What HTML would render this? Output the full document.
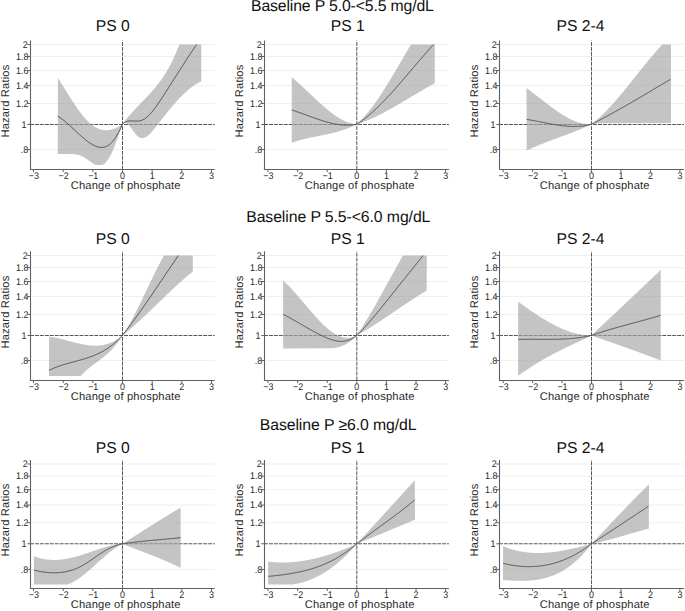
<!DOCTYPE html>
<html><head><meta charset="utf-8"><style>
html,body{margin:0;padding:0;background:#fff;width:685px;height:611px;overflow:hidden}
svg{display:block}
text{font-family:"Liberation Sans",sans-serif;fill:#222;text-rendering:geometricPrecision}
.tk{font-size:9.7px;fill:#2a2a2a}
.at{font-size:11.2px;fill:#2a2a2a}
.pt{font-size:15.7px;fill:#111}
.rt{font-size:15.8px;fill:#111}
</style></head><body>
<svg width="685" height="611" viewBox="0 0 685 611" shape-rendering="geometricPrecision">
<line x1="32.0" y1="149.50" x2="214.7" y2="149.50" stroke="#ebf1f1" stroke-width="1"/>
<line x1="32.0" y1="103.50" x2="214.7" y2="103.50" stroke="#ebf1f1" stroke-width="1"/>
<line x1="32.0" y1="85.50" x2="214.7" y2="85.50" stroke="#ebf1f1" stroke-width="1"/>
<line x1="32.0" y1="70.50" x2="214.7" y2="70.50" stroke="#ebf1f1" stroke-width="1"/>
<line x1="32.0" y1="56.50" x2="214.7" y2="56.50" stroke="#ebf1f1" stroke-width="1"/>
<line x1="32.0" y1="44.50" x2="214.7" y2="44.50" stroke="#ebf1f1" stroke-width="1"/>
<line x1="30.0" y1="124.50" x2="214.7" y2="124.50" stroke="#585858" stroke-width="1" stroke-dasharray="3.95 1"/>
<line x1="122.50" y1="40.6" x2="122.50" y2="169.5" stroke="#585858" stroke-width="1" stroke-dasharray="3.95 1" stroke-dashoffset="3.55"/>
<path d="M57.90,77.90 L58.40,78.69 L58.90,79.48 L59.40,80.28 L59.90,81.07 L60.40,81.88 L60.90,82.68 L61.40,83.48 L61.90,84.29 L62.40,85.09 L62.90,85.90 L63.40,86.71 L63.90,87.52 L64.40,88.33 L64.90,89.13 L65.40,89.94 L65.90,90.75 L66.40,91.55 L66.90,92.36 L67.40,93.16 L67.90,93.96 L68.40,94.76 L68.90,95.56 L69.40,96.35 L69.90,97.14 L70.40,97.93 L70.90,98.71 L71.40,99.49 L71.90,100.27 L72.40,101.04 L72.90,101.81 L73.40,102.57 L73.90,103.33 L74.40,104.08 L74.90,104.82 L75.40,105.56 L75.90,106.30 L76.40,107.03 L76.90,107.75 L77.40,108.46 L77.90,109.16 L78.40,109.86 L78.90,110.55 L79.40,111.24 L79.90,111.91 L80.40,112.58 L80.90,113.23 L81.40,113.88 L81.90,114.52 L82.40,115.14 L82.90,115.76 L83.40,116.37 L83.90,116.97 L84.40,117.55 L84.90,118.13 L85.40,118.69 L85.90,119.24 L86.40,119.78 L86.90,120.31 L87.40,120.82 L87.90,121.32 L88.40,121.81 L88.90,122.29 L89.40,122.75 L89.90,123.20 L90.40,123.63 L90.90,124.05 L91.40,124.46 L91.90,124.85 L92.40,125.22 L92.90,125.58 L93.40,125.93 L93.90,126.26 L94.40,126.58 L94.90,126.89 L95.40,127.18 L95.90,127.46 L96.40,127.72 L96.90,127.97 L97.40,128.20 L97.90,128.43 L98.40,128.63 L98.90,128.83 L99.40,129.01 L99.90,129.18 L100.40,129.33 L100.90,129.48 L101.40,129.61 L101.90,129.72 L102.40,129.82 L102.90,129.91 L103.40,129.99 L103.90,130.06 L104.40,130.11 L104.90,130.15 L105.40,130.18 L105.90,130.19 L106.40,130.20 L106.90,130.19 L107.40,130.17 L107.90,130.13 L108.40,130.09 L108.90,130.03 L109.40,129.96 L109.90,129.88 L110.40,129.79 L110.90,129.68 L111.40,129.57 L111.90,129.44 L112.40,129.30 L112.90,129.16 L113.40,128.99 L113.90,128.82 L114.40,128.64 L114.90,128.45 L115.40,128.24 L115.90,128.03 L116.40,127.80 L116.90,127.57 L117.40,127.32 L117.90,127.06 L118.40,126.80 L118.90,126.52 L119.40,126.23 L119.90,125.93 L120.40,125.63 L120.90,125.31 L121.40,124.98 L121.90,124.64 L122.40,124.30 L122.90,123.62 L123.40,122.95 L123.90,122.29 L124.40,121.63 L124.90,120.99 L125.40,120.35 L125.90,119.72 L126.40,119.09 L126.90,118.48 L127.40,117.87 L127.90,117.26 L128.40,116.67 L128.90,116.08 L129.40,115.49 L129.90,114.91 L130.40,114.34 L130.90,113.77 L131.40,113.21 L131.90,112.65 L132.40,112.09 L132.90,111.54 L133.40,111.00 L133.90,110.45 L134.40,109.91 L134.90,109.38 L135.40,108.85 L135.90,108.32 L136.40,107.79 L136.90,107.26 L137.40,106.74 L137.90,106.22 L138.40,105.70 L138.90,105.18 L139.40,104.66 L139.90,104.15 L140.40,103.63 L140.90,103.12 L141.40,102.60 L141.90,102.09 L142.40,101.57 L142.90,101.06 L143.40,100.54 L143.90,100.02 L144.40,99.51 L144.90,98.99 L145.40,98.46 L145.90,97.94 L146.40,97.42 L146.90,96.89 L147.40,96.36 L147.90,95.82 L148.40,95.29 L148.90,94.75 L149.40,94.20 L149.90,93.66 L150.40,93.11 L150.90,92.55 L151.40,91.99 L151.90,91.43 L152.40,90.86 L152.90,90.28 L153.40,89.70 L153.90,89.12 L154.40,88.52 L154.90,87.93 L155.40,87.32 L155.90,86.71 L156.40,86.09 L156.90,85.47 L157.40,84.84 L157.90,84.20 L158.40,83.55 L158.90,82.89 L159.40,82.23 L159.90,81.55 L160.40,80.87 L160.90,80.18 L161.40,79.47 L161.90,78.76 L162.40,78.03 L162.90,77.29 L163.40,76.55 L163.90,75.79 L164.40,75.01 L164.90,74.23 L165.40,73.43 L165.90,72.62 L166.40,71.79 L166.90,70.95 L167.40,70.09 L167.90,69.23 L168.40,68.34 L168.90,67.44 L169.40,66.52 L169.90,65.59 L170.40,64.64 L170.90,63.68 L171.40,62.69 L171.90,61.69 L172.40,60.67 L172.90,59.63 L173.40,58.58 L173.90,57.50 L174.40,56.41 L174.90,55.29 L175.40,54.15 L175.90,53.00 L176.40,51.82 L176.90,50.62 L177.40,49.40 L177.90,48.16 L178.40,46.90 L178.90,45.61 L179.40,44.46 L201.30,44.46 L201.30,81.20 L200.90,81.39 L200.40,81.63 L199.90,81.89 L199.40,82.15 L198.90,82.41 L198.40,82.69 L197.90,82.98 L197.40,83.27 L196.90,83.57 L196.40,83.88 L195.90,84.19 L195.40,84.51 L194.90,84.85 L194.40,85.18 L193.90,85.53 L193.40,85.88 L192.90,86.24 L192.40,86.61 L191.90,86.98 L191.40,87.36 L190.90,87.75 L190.40,88.15 L189.90,88.55 L189.40,88.95 L188.90,89.37 L188.40,89.79 L187.90,90.22 L187.40,90.65 L186.90,91.09 L186.40,91.54 L185.90,91.99 L185.40,92.44 L184.90,92.91 L184.40,93.38 L183.90,93.85 L183.40,94.33 L182.90,94.82 L182.40,95.31 L181.90,95.81 L181.40,96.31 L180.90,96.81 L180.40,97.33 L179.90,97.84 L179.40,98.37 L178.90,98.89 L178.40,99.42 L177.90,99.96 L177.40,100.50 L176.90,101.05 L176.40,101.59 L175.90,102.15 L175.40,102.71 L174.90,103.27 L174.40,103.84 L173.90,104.41 L173.40,104.98 L172.90,105.56 L172.40,106.14 L171.90,106.73 L171.40,107.31 L170.90,107.91 L170.40,108.50 L169.90,109.10 L169.40,109.70 L168.90,110.31 L168.40,110.92 L167.90,111.53 L167.40,112.14 L166.90,112.76 L166.40,113.38 L165.90,114.00 L165.40,114.63 L164.90,115.26 L164.40,115.89 L163.90,116.52 L163.40,117.15 L162.90,117.79 L162.40,118.43 L161.90,119.07 L161.40,119.71 L160.90,120.36 L160.40,121.00 L159.90,121.65 L159.40,122.30 L158.90,122.95 L158.40,123.60 L157.90,124.25 L157.40,124.91 L156.90,125.56 L156.40,126.22 L155.90,126.87 L155.40,127.51 L154.90,128.15 L154.40,128.78 L153.90,129.41 L153.40,130.02 L152.90,130.62 L152.40,131.21 L151.90,131.79 L151.40,132.34 L150.90,132.89 L150.40,133.41 L149.90,133.92 L149.40,134.40 L148.90,134.86 L148.40,135.30 L147.90,135.71 L147.40,136.09 L146.90,136.45 L146.40,136.77 L145.90,137.07 L145.40,137.33 L144.90,137.56 L144.40,137.75 L143.90,137.91 L143.40,138.03 L142.90,138.11 L142.40,138.15 L141.90,138.14 L141.40,138.09 L140.90,138.00 L140.40,137.86 L139.90,137.68 L139.40,137.44 L138.90,137.15 L138.40,136.82 L137.90,136.42 L137.40,135.98 L136.90,135.49 L136.40,134.95 L135.90,134.38 L135.40,133.78 L134.90,133.15 L134.40,132.50 L133.90,131.83 L133.40,131.15 L132.90,130.46 L132.40,129.77 L131.90,129.09 L131.40,128.41 L130.90,127.75 L130.40,127.10 L129.90,126.48 L129.40,125.89 L128.90,125.34 L128.40,124.84 L127.90,124.38 L127.40,123.98 L126.90,123.64 L126.40,123.37 L125.90,123.17 L125.40,123.06 L124.90,123.03 L124.40,123.09 L123.90,123.26 L123.40,123.52 L122.90,123.90 L122.40,124.50 L122.25,124.90 L121.75,126.25 L121.25,127.63 L120.75,129.03 L120.25,130.44 L119.75,131.87 L119.25,133.30 L118.75,134.73 L118.25,136.16 L117.75,137.59 L117.25,139.01 L116.75,140.42 L116.25,141.81 L115.75,143.18 L115.25,144.53 L114.75,145.85 L114.25,147.13 L113.75,148.39 L113.25,149.60 L112.75,150.76 L112.25,151.89 L111.75,152.96 L111.25,153.99 L110.75,154.97 L110.25,155.91 L109.75,156.81 L109.25,157.66 L108.75,158.46 L108.25,159.22 L107.75,159.94 L107.25,160.62 L106.75,161.25 L106.25,161.84 L105.75,162.38 L105.25,162.89 L104.75,163.35 L104.25,163.77 L103.75,164.15 L103.25,164.49 L102.75,164.78 L102.25,164.93 L101.75,164.93 L101.25,164.93 L100.75,164.93 L100.25,164.93 L99.75,164.93 L99.25,164.93 L98.75,164.93 L98.25,164.93 L97.75,164.93 L97.25,164.93 L96.75,164.93 L96.25,164.93 L95.75,164.93 L95.25,164.76 L94.75,164.52 L94.25,164.25 L93.75,163.97 L93.25,163.67 L92.75,163.35 L92.25,163.03 L91.75,162.69 L91.25,162.34 L90.75,161.98 L90.25,161.61 L89.75,161.24 L89.25,160.87 L88.75,160.50 L88.25,160.13 L87.75,159.76 L87.25,159.40 L86.75,159.04 L86.25,158.69 L85.75,158.35 L85.25,158.02 L84.75,157.70 L84.25,157.40 L83.75,157.12 L83.25,156.85 L82.75,156.59 L82.25,156.35 L81.75,156.13 L81.25,155.92 L80.75,155.72 L80.25,155.53 L79.75,155.36 L79.25,155.20 L78.75,155.05 L78.25,154.91 L77.75,154.78 L77.25,154.67 L76.75,154.56 L76.25,154.46 L75.75,154.38 L75.25,154.30 L74.75,154.23 L74.25,154.16 L73.75,154.11 L73.25,154.06 L72.75,154.02 L72.25,153.99 L71.75,153.96 L71.25,153.93 L70.75,153.92 L70.25,153.90 L69.75,153.89 L69.25,153.89 L68.75,153.89 L68.25,153.89 L67.75,153.89 L67.25,153.90 L66.75,153.91 L66.25,153.92 L65.75,153.93 L65.25,153.94 L64.75,153.95 L64.25,153.96 L63.75,153.97 L63.25,153.98 L62.75,153.99 L62.25,154.00 L61.75,154.00 L61.25,154.00 L60.75,154.00 L60.25,153.99 L59.75,153.98 L59.25,153.97 L58.75,153.95 L58.25,153.93 L57.75,153.90 Z" fill="#a4a4a4" fill-opacity="0.65"/>
<path d="M57.60,116.10 L58.10,116.41 L58.60,116.72 L59.10,117.04 L59.60,117.38 L60.10,117.72 L60.60,118.06 L61.10,118.42 L61.60,118.79 L62.10,119.16 L62.60,119.54 L63.10,119.92 L63.60,120.32 L64.10,120.71 L64.60,121.12 L65.10,121.53 L65.60,121.95 L66.10,122.37 L66.60,122.79 L67.10,123.22 L67.60,123.66 L68.10,124.10 L68.60,124.54 L69.10,124.99 L69.60,125.44 L70.10,125.89 L70.60,126.34 L71.10,126.80 L71.60,127.26 L72.10,127.72 L72.60,128.18 L73.10,128.65 L73.60,129.11 L74.10,129.58 L74.60,130.04 L75.10,130.51 L75.60,130.97 L76.10,131.44 L76.60,131.90 L77.10,132.37 L77.60,132.83 L78.10,133.29 L78.60,133.75 L79.10,134.21 L79.60,134.66 L80.10,135.11 L80.60,135.56 L81.10,136.00 L81.60,136.45 L82.10,136.88 L82.60,137.32 L83.10,137.75 L83.60,138.17 L84.10,138.59 L84.60,139.00 L85.10,139.41 L85.60,139.81 L86.10,140.21 L86.60,140.60 L87.10,140.99 L87.60,141.36 L88.10,141.73 L88.60,142.09 L89.10,142.45 L89.60,142.79 L90.10,143.13 L90.60,143.46 L91.10,143.78 L91.60,144.09 L92.10,144.39 L92.60,144.68 L93.10,144.96 L93.60,145.22 L94.10,145.48 L94.60,145.72 L95.10,145.95 L95.60,146.16 L96.10,146.36 L96.60,146.55 L97.10,146.72 L97.60,146.87 L98.10,147.01 L98.60,147.13 L99.10,147.23 L99.60,147.31 L100.10,147.38 L100.60,147.42 L101.10,147.45 L101.60,147.46 L102.10,147.44 L102.60,147.40 L103.10,147.34 L103.60,147.26 L104.10,147.15 L104.60,147.03 L105.10,146.87 L105.60,146.69 L106.10,146.49 L106.60,146.26 L107.10,146.00 L107.60,145.72 L108.10,145.41 L108.60,145.08 L109.10,144.71 L109.60,144.32 L110.10,143.90 L110.60,143.46 L111.10,142.98 L111.60,142.48 L112.10,141.95 L112.60,141.39 L113.10,140.80 L113.60,140.18 L114.10,139.54 L114.60,138.86 L115.10,138.15 L115.60,137.42 L116.10,136.65 L116.60,135.85 L117.10,135.02 L117.60,134.16 L118.10,133.27 L118.60,132.35 L119.10,131.40 L119.60,130.41 L120.10,129.40 L120.60,128.35 L121.10,127.26 L121.60,126.15 L122.10,125.00 L122.40,124.30 L122.90,123.79 L123.40,123.34 L123.90,122.93 L124.40,122.57 L124.90,122.25 L125.40,121.98 L125.90,121.74 L126.40,121.54 L126.90,121.37 L127.40,121.23 L127.90,121.12 L128.40,121.03 L128.90,120.97 L129.40,120.93 L129.90,120.91 L130.40,120.90 L130.90,120.90 L131.40,120.91 L131.90,120.93 L132.40,120.96 L132.90,120.98 L133.40,121.01 L133.90,121.04 L134.40,121.07 L134.90,121.09 L135.40,121.11 L135.90,121.12 L136.40,121.12 L136.90,121.12 L137.40,121.10 L137.90,121.07 L138.40,121.03 L138.90,120.98 L139.40,120.90 L139.90,120.81 L140.40,120.70 L140.90,120.57 L141.40,120.41 L141.90,120.23 L142.40,120.03 L142.90,119.80 L143.40,119.54 L143.90,119.26 L144.40,118.96 L144.90,118.64 L145.40,118.29 L145.90,117.92 L146.40,117.53 L146.90,117.12 L147.40,116.68 L147.90,116.23 L148.40,115.76 L148.90,115.27 L149.40,114.77 L149.90,114.24 L150.40,113.70 L150.90,113.15 L151.40,112.57 L151.90,111.99 L152.40,111.38 L152.90,110.77 L153.40,110.14 L153.90,109.50 L154.40,108.85 L154.90,108.18 L155.40,107.51 L155.90,106.82 L156.40,106.13 L156.90,105.42 L157.40,104.71 L157.90,103.99 L158.40,103.26 L158.90,102.52 L159.40,101.78 L159.90,101.04 L160.40,100.28 L160.90,99.53 L161.40,98.77 L161.90,98.00 L162.40,97.24 L162.90,96.47 L163.40,95.70 L163.90,94.93 L164.40,94.15 L164.90,93.38 L165.40,92.60 L165.90,91.83 L166.40,91.05 L166.90,90.27 L167.40,89.49 L167.90,88.71 L168.40,87.93 L168.90,87.15 L169.40,86.37 L169.90,85.59 L170.40,84.80 L170.90,84.02 L171.40,83.23 L171.90,82.45 L172.40,81.67 L172.90,80.88 L173.40,80.10 L173.90,79.31 L174.40,78.52 L174.90,77.74 L175.40,76.95 L175.90,76.17 L176.40,75.38 L176.90,74.60 L177.40,73.81 L177.90,73.03 L178.40,72.25 L178.90,71.46 L179.40,70.68 L179.90,69.90 L180.40,69.12 L180.90,68.34 L181.40,67.56 L181.90,66.78 L182.40,66.00 L182.90,65.22 L183.40,64.45 L183.90,63.67 L184.40,62.90 L184.90,62.12 L185.40,61.35 L185.90,60.58 L186.40,59.81 L186.90,59.05 L187.40,58.28 L187.90,57.52 L188.40,56.75 L188.90,55.99 L189.40,55.23 L189.90,54.47 L190.40,53.72 L190.90,52.96 L191.40,52.21 L191.90,51.46 L192.40,50.71 L192.90,49.97 L193.40,49.23 L193.90,48.48 L194.40,47.75 L194.90,47.01 L195.40,46.28 L195.90,45.54 L196.40,44.81 L196.64,44.46" fill="none" stroke="#4a4a4a" stroke-width="1.0" stroke-linejoin="round"/>
<path d="M30.5,40.6 V169.5 H214.7" fill="none" stroke="#606060" stroke-width="1.1"/>
<line x1="27.4" y1="149.50" x2="30.5" y2="149.50" stroke="#606060" stroke-width="1"/>
<text transform="translate(28.30,152.75) scale(0.92,1)" class="tk" text-anchor="end">.8</text>
<line x1="27.4" y1="124.50" x2="30.5" y2="124.50" stroke="#606060" stroke-width="1"/>
<text transform="translate(26.55,127.75) scale(0.92,1)" class="tk" text-anchor="end">1</text>
<line x1="27.4" y1="103.50" x2="30.5" y2="103.50" stroke="#606060" stroke-width="1"/>
<text transform="translate(28.45,106.75) scale(0.92,1)" class="tk" text-anchor="end">1.2</text>
<line x1="27.4" y1="85.50" x2="30.5" y2="85.50" stroke="#606060" stroke-width="1"/>
<text transform="translate(28.45,88.75) scale(0.92,1)" class="tk" text-anchor="end">1.4</text>
<line x1="27.4" y1="70.50" x2="30.5" y2="70.50" stroke="#606060" stroke-width="1"/>
<text transform="translate(28.45,73.75) scale(0.92,1)" class="tk" text-anchor="end">1.6</text>
<line x1="27.4" y1="56.50" x2="30.5" y2="56.50" stroke="#606060" stroke-width="1"/>
<text transform="translate(28.45,59.75) scale(0.92,1)" class="tk" text-anchor="end">1.8</text>
<line x1="27.4" y1="44.50" x2="30.5" y2="44.50" stroke="#606060" stroke-width="1"/>
<text transform="translate(27.67,47.75) scale(0.92,1)" class="tk" text-anchor="end">2</text>
<line x1="33.49" y1="169.5" x2="33.49" y2="172.1" stroke="#606060" stroke-width="1"/>
<text transform="translate(33.89,178.60) scale(0.92,1)" class="tk" text-anchor="middle">−3</text>
<line x1="63.16" y1="169.5" x2="63.16" y2="172.1" stroke="#606060" stroke-width="1"/>
<text transform="translate(63.56,178.60) scale(0.92,1)" class="tk" text-anchor="middle">−2</text>
<line x1="92.83" y1="169.5" x2="92.83" y2="172.1" stroke="#606060" stroke-width="1"/>
<text transform="translate(93.23,178.60) scale(0.92,1)" class="tk" text-anchor="middle">−1</text>
<line x1="122.50" y1="169.5" x2="122.50" y2="172.1" stroke="#606060" stroke-width="1"/>
<text transform="translate(122.50,178.60) scale(0.92,1)" class="tk" text-anchor="middle">0</text>
<line x1="152.17" y1="169.5" x2="152.17" y2="172.1" stroke="#606060" stroke-width="1"/>
<text transform="translate(152.17,178.60) scale(0.92,1)" class="tk" text-anchor="middle">1</text>
<line x1="181.84" y1="169.5" x2="181.84" y2="172.1" stroke="#606060" stroke-width="1"/>
<text transform="translate(181.84,178.60) scale(0.92,1)" class="tk" text-anchor="middle">2</text>
<line x1="211.51" y1="169.5" x2="211.51" y2="172.1" stroke="#606060" stroke-width="1"/>
<text transform="translate(211.51,178.60) scale(0.92,1)" class="tk" text-anchor="middle">3</text>
<text x="70.63" y="188.7" class="at" textLength="109.9" lengthAdjust="spacing">Change of phosphate</text>
<text transform="translate(9.0,137.5) rotate(-90)" class="at" textLength="72.8" lengthAdjust="spacing">Hazard Ratios</text>
<line x1="266.0" y1="149.50" x2="448.9" y2="149.50" stroke="#ebf1f1" stroke-width="1"/>
<line x1="266.0" y1="103.50" x2="448.9" y2="103.50" stroke="#ebf1f1" stroke-width="1"/>
<line x1="266.0" y1="85.50" x2="448.9" y2="85.50" stroke="#ebf1f1" stroke-width="1"/>
<line x1="266.0" y1="70.50" x2="448.9" y2="70.50" stroke="#ebf1f1" stroke-width="1"/>
<line x1="266.0" y1="56.50" x2="448.9" y2="56.50" stroke="#ebf1f1" stroke-width="1"/>
<line x1="266.0" y1="44.50" x2="448.9" y2="44.50" stroke="#ebf1f1" stroke-width="1"/>
<line x1="264.0" y1="124.50" x2="448.9" y2="124.50" stroke="#585858" stroke-width="1" stroke-dasharray="3.95 1"/>
<line x1="356.80" y1="40.6" x2="356.80" y2="169.5" stroke="#585858" stroke-width="1" stroke-dasharray="3.95 1" stroke-dashoffset="3.55"/>
<path d="M291.70,77.30 L292.20,77.71 L292.70,78.11 L293.20,78.53 L293.70,78.94 L294.20,79.36 L294.70,79.78 L295.20,80.21 L295.70,80.64 L296.20,81.07 L296.70,81.50 L297.20,81.94 L297.70,82.38 L298.20,82.82 L298.70,83.27 L299.20,83.71 L299.70,84.16 L300.20,84.62 L300.70,85.07 L301.20,85.53 L301.70,85.98 L302.20,86.44 L302.70,86.91 L303.20,87.37 L303.70,87.83 L304.20,88.30 L304.70,88.77 L305.20,89.23 L305.70,89.70 L306.20,90.17 L306.70,90.65 L307.20,91.12 L307.70,91.59 L308.20,92.06 L308.70,92.54 L309.20,93.01 L309.70,93.48 L310.20,93.96 L310.70,94.43 L311.20,94.91 L311.70,95.38 L312.20,95.85 L312.70,96.33 L313.20,96.80 L313.70,97.27 L314.20,97.74 L314.70,98.21 L315.20,98.68 L315.70,99.15 L316.20,99.62 L316.70,100.09 L317.20,100.55 L317.70,101.01 L318.20,101.48 L318.70,101.94 L319.20,102.39 L319.70,102.85 L320.20,103.31 L320.70,103.76 L321.20,104.21 L321.70,104.66 L322.20,105.10 L322.70,105.55 L323.20,105.99 L323.70,106.43 L324.20,106.86 L324.70,107.29 L325.20,107.72 L325.70,108.15 L326.20,108.57 L326.70,108.99 L327.20,109.41 L327.70,109.82 L328.20,110.23 L328.70,110.64 L329.20,111.04 L329.70,111.44 L330.20,111.83 L330.70,112.22 L331.20,112.60 L331.70,112.99 L332.20,113.36 L332.70,113.73 L333.20,114.10 L333.70,114.46 L334.20,114.82 L334.70,115.17 L335.20,115.52 L335.70,115.86 L336.20,116.20 L336.70,116.53 L337.20,116.86 L337.70,117.18 L338.20,117.50 L338.70,117.81 L339.20,118.11 L339.70,118.41 L340.20,118.70 L340.70,118.98 L341.20,119.26 L341.70,119.53 L342.20,119.80 L342.70,120.06 L343.20,120.31 L343.70,120.56 L344.20,120.80 L344.70,121.03 L345.20,121.25 L345.70,121.47 L346.20,121.68 L346.70,121.88 L347.20,122.08 L347.70,122.26 L348.20,122.44 L348.70,122.62 L349.20,122.78 L349.70,122.94 L350.20,123.08 L350.70,123.22 L351.20,123.35 L351.70,123.47 L352.20,123.59 L352.70,123.69 L353.20,123.79 L353.70,123.88 L354.20,123.95 L354.70,124.02 L355.20,124.08 L355.70,124.13 L356.20,124.17 L356.60,124.20 L357.10,123.77 L357.60,123.34 L358.10,122.90 L358.60,122.44 L359.10,121.98 L359.60,121.51 L360.10,121.03 L360.60,120.54 L361.10,120.05 L361.60,119.54 L362.10,119.02 L362.60,118.50 L363.10,117.97 L363.60,117.43 L364.10,116.88 L364.60,116.33 L365.10,115.76 L365.60,115.19 L366.10,114.61 L366.60,114.02 L367.10,113.43 L367.60,112.83 L368.10,112.22 L368.60,111.60 L369.10,110.98 L369.60,110.35 L370.10,109.71 L370.60,109.07 L371.10,108.42 L371.60,107.76 L372.10,107.10 L372.60,106.43 L373.10,105.75 L373.60,105.07 L374.10,104.38 L374.60,103.69 L375.10,102.99 L375.60,102.28 L376.10,101.57 L376.60,100.85 L377.10,100.13 L377.60,99.40 L378.10,98.67 L378.60,97.93 L379.10,97.19 L379.60,96.44 L380.10,95.69 L380.60,94.94 L381.10,94.17 L381.60,93.41 L382.10,92.64 L382.60,91.86 L383.10,91.09 L383.60,90.30 L384.10,89.52 L384.60,88.73 L385.10,87.93 L385.60,87.14 L386.10,86.34 L386.60,85.53 L387.10,84.73 L387.60,83.92 L388.10,83.10 L388.60,82.29 L389.10,81.47 L389.60,80.64 L390.10,79.82 L390.60,78.99 L391.10,78.16 L391.60,77.33 L392.10,76.50 L392.60,75.66 L393.10,74.82 L393.60,73.98 L394.10,73.14 L394.60,72.30 L395.10,71.45 L395.60,70.61 L396.10,69.76 L396.60,68.91 L397.10,68.06 L397.60,67.21 L398.10,66.36 L398.60,65.51 L399.10,64.65 L399.60,63.80 L400.10,62.94 L400.60,62.09 L401.10,61.23 L401.60,60.38 L402.10,59.52 L402.60,58.67 L403.10,57.81 L403.60,56.96 L404.10,56.10 L404.60,55.25 L405.10,54.39 L405.60,53.54 L406.10,52.69 L406.60,51.84 L407.10,50.99 L407.60,50.14 L408.10,49.29 L408.60,48.44 L409.10,47.60 L409.60,46.75 L410.10,45.91 L410.60,45.07 L411.00,44.46 L434.80,44.46 L434.80,83.20 L434.60,83.31 L434.10,83.58 L433.60,83.85 L433.10,84.13 L432.60,84.40 L432.10,84.68 L431.60,84.95 L431.10,85.23 L430.60,85.51 L430.10,85.79 L429.60,86.07 L429.10,86.35 L428.60,86.63 L428.10,86.92 L427.60,87.20 L427.10,87.48 L426.60,87.77 L426.10,88.06 L425.60,88.34 L425.10,88.63 L424.60,88.92 L424.10,89.21 L423.60,89.50 L423.10,89.79 L422.60,90.08 L422.10,90.37 L421.60,90.67 L421.10,90.96 L420.60,91.25 L420.10,91.54 L419.60,91.84 L419.10,92.13 L418.60,92.43 L418.10,92.72 L417.60,93.02 L417.10,93.32 L416.60,93.61 L416.10,93.91 L415.60,94.21 L415.10,94.50 L414.60,94.80 L414.10,95.10 L413.60,95.40 L413.10,95.70 L412.60,95.99 L412.10,96.29 L411.60,96.59 L411.10,96.89 L410.60,97.19 L410.10,97.49 L409.60,97.78 L409.10,98.08 L408.60,98.38 L408.10,98.68 L407.60,98.98 L407.10,99.27 L406.60,99.57 L406.10,99.87 L405.60,100.17 L405.10,100.46 L404.60,100.76 L404.10,101.06 L403.60,101.35 L403.10,101.65 L402.60,101.95 L402.10,102.24 L401.60,102.54 L401.10,102.83 L400.60,103.12 L400.10,103.42 L399.60,103.71 L399.10,104.00 L398.60,104.29 L398.10,104.59 L397.60,104.88 L397.10,105.17 L396.60,105.46 L396.10,105.74 L395.60,106.03 L395.10,106.32 L394.60,106.61 L394.10,106.89 L393.60,107.18 L393.10,107.46 L392.60,107.75 L392.10,108.03 L391.60,108.31 L391.10,108.59 L390.60,108.87 L390.10,109.15 L389.60,109.43 L389.10,109.70 L388.60,109.98 L388.10,110.25 L387.60,110.53 L387.10,110.80 L386.60,111.07 L386.10,111.34 L385.60,111.61 L385.10,111.88 L384.60,112.15 L384.10,112.41 L383.60,112.68 L383.10,112.94 L382.60,113.20 L382.10,113.46 L381.60,113.72 L381.10,113.98 L380.60,114.23 L380.10,114.49 L379.60,114.74 L379.10,114.99 L378.60,115.24 L378.10,115.49 L377.60,115.74 L377.10,115.99 L376.60,116.23 L376.10,116.47 L375.60,116.71 L375.10,116.95 L374.60,117.19 L374.10,117.43 L373.60,117.66 L373.10,117.89 L372.60,118.12 L372.10,118.35 L371.60,118.58 L371.10,118.80 L370.60,119.02 L370.10,119.25 L369.60,119.46 L369.10,119.68 L368.60,119.90 L368.10,120.11 L367.60,120.32 L367.10,120.53 L366.60,120.74 L366.10,120.94 L365.60,121.14 L365.10,121.34 L364.60,121.54 L364.10,121.74 L363.60,121.93 L363.10,122.12 L362.60,122.31 L362.10,122.50 L361.60,122.69 L361.10,122.87 L360.60,123.05 L360.10,123.23 L359.60,123.40 L359.10,123.57 L358.60,123.74 L358.10,123.91 L357.60,124.08 L357.10,124.24 L356.60,124.40 L356.20,124.61 L355.70,124.86 L355.20,125.11 L354.70,125.36 L354.20,125.60 L353.70,125.84 L353.20,126.08 L352.70,126.31 L352.20,126.54 L351.70,126.76 L351.20,126.98 L350.70,127.19 L350.20,127.41 L349.70,127.61 L349.20,127.82 L348.70,128.02 L348.20,128.22 L347.70,128.41 L347.20,128.61 L346.70,128.79 L346.20,128.98 L345.70,129.16 L345.20,129.34 L344.70,129.52 L344.20,129.69 L343.70,129.86 L343.20,130.03 L342.70,130.19 L342.20,130.35 L341.70,130.51 L341.20,130.67 L340.70,130.82 L340.20,130.97 L339.70,131.12 L339.20,131.27 L338.70,131.41 L338.20,131.56 L337.70,131.70 L337.20,131.83 L336.70,131.97 L336.20,132.10 L335.70,132.23 L335.20,132.36 L334.70,132.49 L334.20,132.62 L333.70,132.74 L333.20,132.86 L332.70,132.99 L332.20,133.10 L331.70,133.22 L331.20,133.34 L330.70,133.45 L330.20,133.57 L329.70,133.68 L329.20,133.79 L328.70,133.90 L328.20,134.01 L327.70,134.12 L327.20,134.22 L326.70,134.33 L326.20,134.43 L325.70,134.54 L325.20,134.64 L324.70,134.74 L324.20,134.85 L323.70,134.95 L323.20,135.05 L322.70,135.15 L322.20,135.25 L321.70,135.35 L321.20,135.45 L320.70,135.55 L320.20,135.64 L319.70,135.74 L319.20,135.84 L318.70,135.94 L318.20,136.04 L317.70,136.14 L317.20,136.24 L316.70,136.33 L316.20,136.43 L315.70,136.53 L315.20,136.63 L314.70,136.73 L314.20,136.83 L313.70,136.94 L313.20,137.04 L312.70,137.14 L312.20,137.24 L311.70,137.35 L311.20,137.45 L310.70,137.56 L310.20,137.66 L309.70,137.77 L309.20,137.88 L308.70,137.99 L308.20,138.10 L307.70,138.21 L307.20,138.33 L306.70,138.44 L306.20,138.56 L305.70,138.68 L305.20,138.80 L304.70,138.92 L304.20,139.04 L303.70,139.16 L303.20,139.29 L302.70,139.42 L302.20,139.55 L301.70,139.68 L301.20,139.81 L300.70,139.95 L300.20,140.08 L299.70,140.22 L299.20,140.37 L298.70,140.51 L298.20,140.66 L297.70,140.81 L297.20,140.96 L296.70,141.11 L296.20,141.27 L295.70,141.43 L295.20,141.59 L294.70,141.75 L294.20,141.92 L293.70,142.09 L293.20,142.26 L292.70,142.44 L292.20,142.62 L291.70,142.80 Z" fill="#a4a4a4" fill-opacity="0.65"/>
<path d="M291.70,110.00 L292.20,110.15 L292.70,110.31 L293.20,110.47 L293.70,110.63 L294.20,110.79 L294.70,110.95 L295.20,111.12 L295.70,111.28 L296.20,111.45 L296.70,111.62 L297.20,111.79 L297.70,111.96 L298.20,112.13 L298.70,112.31 L299.20,112.48 L299.70,112.66 L300.20,112.83 L300.70,113.01 L301.20,113.19 L301.70,113.37 L302.20,113.55 L302.70,113.73 L303.20,113.91 L303.70,114.09 L304.20,114.27 L304.70,114.46 L305.20,114.64 L305.70,114.82 L306.20,115.00 L306.70,115.19 L307.20,115.37 L307.70,115.55 L308.20,115.74 L308.70,115.92 L309.20,116.10 L309.70,116.29 L310.20,116.47 L310.70,116.65 L311.20,116.83 L311.70,117.01 L312.20,117.20 L312.70,117.38 L313.20,117.56 L313.70,117.74 L314.20,117.91 L314.70,118.09 L315.20,118.27 L315.70,118.44 L316.20,118.62 L316.70,118.79 L317.20,118.97 L317.70,119.14 L318.20,119.31 L318.70,119.48 L319.20,119.65 L319.70,119.81 L320.20,119.98 L320.70,120.14 L321.20,120.30 L321.70,120.46 L322.20,120.62 L322.70,120.78 L323.20,120.94 L323.70,121.09 L324.20,121.24 L324.70,121.39 L325.20,121.54 L325.70,121.68 L326.20,121.83 L326.70,121.97 L327.20,122.11 L327.70,122.24 L328.20,122.38 L328.70,122.51 L329.20,122.64 L329.70,122.77 L330.20,122.89 L330.70,123.01 L331.20,123.13 L331.70,123.25 L332.20,123.36 L332.70,123.47 L333.20,123.58 L333.70,123.68 L334.20,123.78 L334.70,123.88 L335.20,123.97 L335.70,124.07 L336.20,124.15 L336.70,124.24 L337.20,124.32 L337.70,124.40 L338.20,124.47 L338.70,124.54 L339.20,124.61 L339.70,124.67 L340.20,124.73 L340.70,124.79 L341.20,124.84 L341.70,124.89 L342.20,124.93 L342.70,124.97 L343.20,125.01 L343.70,125.04 L344.20,125.06 L344.70,125.09 L345.20,125.11 L345.70,125.12 L346.20,125.13 L346.70,125.13 L347.20,125.13 L347.70,125.13 L348.20,125.12 L348.70,125.11 L349.20,125.09 L349.70,125.06 L350.20,125.03 L350.70,125.00 L351.20,124.96 L351.70,124.92 L352.20,124.87 L352.70,124.81 L353.20,124.75 L353.70,124.69 L354.20,124.62 L354.70,124.54 L355.20,124.46 L355.70,124.37 L356.20,124.28 L356.60,124.20 L357.10,123.89 L357.60,123.57 L358.10,123.25 L358.60,122.92 L359.10,122.59 L359.60,122.26 L360.10,121.92 L360.60,121.57 L361.10,121.22 L361.60,120.86 L362.10,120.50 L362.60,120.14 L363.10,119.77 L363.60,119.40 L364.10,119.02 L364.60,118.64 L365.10,118.25 L365.60,117.86 L366.10,117.47 L366.60,117.07 L367.10,116.66 L367.60,116.26 L368.10,115.84 L368.60,115.43 L369.10,115.01 L369.60,114.58 L370.10,114.16 L370.60,113.72 L371.10,113.29 L371.60,112.85 L372.10,112.41 L372.60,111.96 L373.10,111.51 L373.60,111.06 L374.10,110.60 L374.60,110.14 L375.10,109.68 L375.60,109.21 L376.10,108.74 L376.60,108.26 L377.10,107.79 L377.60,107.31 L378.10,106.82 L378.60,106.34 L379.10,105.85 L379.60,105.35 L380.10,104.86 L380.60,104.36 L381.10,103.86 L381.60,103.35 L382.10,102.85 L382.60,102.34 L383.10,101.83 L383.60,101.31 L384.10,100.79 L384.60,100.27 L385.10,99.75 L385.60,99.22 L386.10,98.70 L386.60,98.17 L387.10,97.63 L387.60,97.10 L388.10,96.56 L388.60,96.02 L389.10,95.48 L389.60,94.94 L390.10,94.40 L390.60,93.85 L391.10,93.30 L391.60,92.75 L392.10,92.20 L392.60,91.64 L393.10,91.09 L393.60,90.53 L394.10,89.97 L394.60,89.41 L395.10,88.84 L395.60,88.28 L396.10,87.71 L396.60,87.15 L397.10,86.58 L397.60,86.01 L398.10,85.44 L398.60,84.86 L399.10,84.29 L399.60,83.72 L400.10,83.14 L400.60,82.56 L401.10,81.99 L401.60,81.41 L402.10,80.83 L402.60,80.25 L403.10,79.66 L403.60,79.08 L404.10,78.50 L404.60,77.92 L405.10,77.33 L405.60,76.75 L406.10,76.16 L406.60,75.58 L407.10,74.99 L407.60,74.40 L408.10,73.82 L408.60,73.23 L409.10,72.64 L409.60,72.05 L410.10,71.47 L410.60,70.88 L411.10,70.29 L411.60,69.70 L412.10,69.11 L412.60,68.53 L413.10,67.94 L413.60,67.35 L414.10,66.76 L414.60,66.17 L415.10,65.59 L415.60,65.00 L416.10,64.41 L416.60,63.83 L417.10,63.24 L417.60,62.66 L418.10,62.07 L418.60,61.49 L419.10,60.91 L419.60,60.33 L420.10,59.74 L420.60,59.16 L421.10,58.58 L421.60,58.01 L422.10,57.43 L422.60,56.85 L423.10,56.28 L423.60,55.70 L424.10,55.13 L424.60,54.55 L425.10,53.98 L425.60,53.41 L426.10,52.85 L426.60,52.28 L427.10,51.71 L427.60,51.15 L428.10,50.59 L428.60,50.02 L429.10,49.47 L429.60,48.91 L430.10,48.35 L430.60,47.80 L431.10,47.24 L431.60,46.69 L432.10,46.14 L432.60,45.60 L433.10,45.05 L433.60,44.51 L433.65,44.46" fill="none" stroke="#4a4a4a" stroke-width="1.0" stroke-linejoin="round"/>
<path d="M264.5,40.6 V169.5 H448.9" fill="none" stroke="#606060" stroke-width="1.1"/>
<line x1="261.4" y1="149.50" x2="264.5" y2="149.50" stroke="#606060" stroke-width="1"/>
<text transform="translate(262.30,152.75) scale(0.92,1)" class="tk" text-anchor="end">.8</text>
<line x1="261.4" y1="124.50" x2="264.5" y2="124.50" stroke="#606060" stroke-width="1"/>
<text transform="translate(260.55,127.75) scale(0.92,1)" class="tk" text-anchor="end">1</text>
<line x1="261.4" y1="103.50" x2="264.5" y2="103.50" stroke="#606060" stroke-width="1"/>
<text transform="translate(262.45,106.75) scale(0.92,1)" class="tk" text-anchor="end">1.2</text>
<line x1="261.4" y1="85.50" x2="264.5" y2="85.50" stroke="#606060" stroke-width="1"/>
<text transform="translate(262.45,88.75) scale(0.92,1)" class="tk" text-anchor="end">1.4</text>
<line x1="261.4" y1="70.50" x2="264.5" y2="70.50" stroke="#606060" stroke-width="1"/>
<text transform="translate(262.45,73.75) scale(0.92,1)" class="tk" text-anchor="end">1.6</text>
<line x1="261.4" y1="56.50" x2="264.5" y2="56.50" stroke="#606060" stroke-width="1"/>
<text transform="translate(262.45,59.75) scale(0.92,1)" class="tk" text-anchor="end">1.8</text>
<line x1="261.4" y1="44.50" x2="264.5" y2="44.50" stroke="#606060" stroke-width="1"/>
<text transform="translate(261.67,47.75) scale(0.92,1)" class="tk" text-anchor="end">2</text>
<line x1="268.00" y1="169.5" x2="268.00" y2="172.1" stroke="#606060" stroke-width="1"/>
<text transform="translate(268.40,178.60) scale(0.92,1)" class="tk" text-anchor="middle">−3</text>
<line x1="297.60" y1="169.5" x2="297.60" y2="172.1" stroke="#606060" stroke-width="1"/>
<text transform="translate(298.00,178.60) scale(0.92,1)" class="tk" text-anchor="middle">−2</text>
<line x1="327.20" y1="169.5" x2="327.20" y2="172.1" stroke="#606060" stroke-width="1"/>
<text transform="translate(327.60,178.60) scale(0.92,1)" class="tk" text-anchor="middle">−1</text>
<line x1="356.80" y1="169.5" x2="356.80" y2="172.1" stroke="#606060" stroke-width="1"/>
<text transform="translate(356.80,178.60) scale(0.92,1)" class="tk" text-anchor="middle">0</text>
<line x1="386.40" y1="169.5" x2="386.40" y2="172.1" stroke="#606060" stroke-width="1"/>
<text transform="translate(386.40,178.60) scale(0.92,1)" class="tk" text-anchor="middle">1</text>
<line x1="416.00" y1="169.5" x2="416.00" y2="172.1" stroke="#606060" stroke-width="1"/>
<text transform="translate(416.00,178.60) scale(0.92,1)" class="tk" text-anchor="middle">2</text>
<line x1="445.60" y1="169.5" x2="445.60" y2="172.1" stroke="#606060" stroke-width="1"/>
<text transform="translate(445.60,178.60) scale(0.92,1)" class="tk" text-anchor="middle">3</text>
<text x="304.63" y="188.7" class="at" textLength="109.9" lengthAdjust="spacing">Change of phosphate</text>
<text transform="translate(243.0,137.5) rotate(-90)" class="at" textLength="72.8" lengthAdjust="spacing">Hazard Ratios</text>
<line x1="501.0" y1="149.50" x2="684.0" y2="149.50" stroke="#ebf1f1" stroke-width="1"/>
<line x1="501.0" y1="103.50" x2="684.0" y2="103.50" stroke="#ebf1f1" stroke-width="1"/>
<line x1="501.0" y1="85.50" x2="684.0" y2="85.50" stroke="#ebf1f1" stroke-width="1"/>
<line x1="501.0" y1="70.50" x2="684.0" y2="70.50" stroke="#ebf1f1" stroke-width="1"/>
<line x1="501.0" y1="56.50" x2="684.0" y2="56.50" stroke="#ebf1f1" stroke-width="1"/>
<line x1="501.0" y1="44.50" x2="684.0" y2="44.50" stroke="#ebf1f1" stroke-width="1"/>
<line x1="499.0" y1="124.50" x2="684.0" y2="124.50" stroke="#585858" stroke-width="1" stroke-dasharray="3.95 1"/>
<line x1="591.50" y1="40.6" x2="591.50" y2="169.5" stroke="#585858" stroke-width="1" stroke-dasharray="3.95 1" stroke-dashoffset="3.55"/>
<path d="M526.50,88.10 L527.00,88.46 L527.50,88.82 L528.00,89.18 L528.50,89.55 L529.00,89.91 L529.50,90.28 L530.00,90.65 L530.50,91.03 L531.00,91.40 L531.50,91.77 L532.00,92.15 L532.50,92.53 L533.00,92.91 L533.50,93.29 L534.00,93.67 L534.50,94.05 L535.00,94.44 L535.50,94.82 L536.00,95.21 L536.50,95.59 L537.00,95.98 L537.50,96.37 L538.00,96.76 L538.50,97.15 L539.00,97.53 L539.50,97.92 L540.00,98.31 L540.50,98.70 L541.00,99.09 L541.50,99.48 L542.00,99.87 L542.50,100.26 L543.00,100.65 L543.50,101.03 L544.00,101.42 L544.50,101.81 L545.00,102.20 L545.50,102.58 L546.00,102.97 L546.50,103.35 L547.00,103.73 L547.50,104.12 L548.00,104.50 L548.50,104.88 L549.00,105.25 L549.50,105.63 L550.00,106.01 L550.50,106.38 L551.00,106.75 L551.50,107.13 L552.00,107.49 L552.50,107.86 L553.00,108.23 L553.50,108.59 L554.00,108.95 L554.50,109.31 L555.00,109.67 L555.50,110.02 L556.00,110.37 L556.50,110.72 L557.00,111.07 L557.50,111.42 L558.00,111.76 L558.50,112.10 L559.00,112.43 L559.50,112.76 L560.00,113.09 L560.50,113.42 L561.00,113.74 L561.50,114.06 L562.00,114.38 L562.50,114.70 L563.00,115.01 L563.50,115.31 L564.00,115.61 L564.50,115.91 L565.00,116.21 L565.50,116.50 L566.00,116.79 L566.50,117.07 L567.00,117.35 L567.50,117.62 L568.00,117.89 L568.50,118.16 L569.00,118.42 L569.50,118.67 L570.00,118.93 L570.50,119.17 L571.00,119.42 L571.50,119.65 L572.00,119.89 L572.50,120.11 L573.00,120.33 L573.50,120.55 L574.00,120.76 L574.50,120.97 L575.00,121.17 L575.50,121.37 L576.00,121.56 L576.50,121.74 L577.00,121.92 L577.50,122.09 L578.00,122.26 L578.50,122.42 L579.00,122.57 L579.50,122.72 L580.00,122.86 L580.50,122.99 L581.00,123.12 L581.50,123.24 L582.00,123.36 L582.50,123.47 L583.00,123.57 L583.50,123.67 L584.00,123.75 L584.50,123.84 L585.00,123.91 L585.50,123.98 L586.00,124.04 L586.50,124.09 L587.00,124.14 L587.50,124.17 L588.00,124.20 L588.50,124.23 L589.00,124.24 L589.50,124.25 L590.00,124.25 L590.50,124.24 L591.00,124.22 L591.40,124.20 L591.90,123.82 L592.40,123.44 L592.90,123.06 L593.40,122.66 L593.90,122.26 L594.40,121.86 L594.90,121.45 L595.40,121.04 L595.90,120.62 L596.40,120.19 L596.90,119.76 L597.40,119.33 L597.90,118.89 L598.40,118.44 L598.90,117.99 L599.40,117.54 L599.90,117.08 L600.40,116.62 L600.90,116.15 L601.40,115.67 L601.90,115.20 L602.40,114.72 L602.90,114.23 L603.40,113.74 L603.90,113.25 L604.40,112.75 L604.90,112.25 L605.40,111.74 L605.90,111.23 L606.40,110.72 L606.90,110.20 L607.40,109.68 L607.90,109.15 L608.40,108.62 L608.90,108.09 L609.40,107.55 L609.90,107.02 L610.40,106.47 L610.90,105.93 L611.40,105.38 L611.90,104.83 L612.40,104.27 L612.90,103.71 L613.40,103.15 L613.90,102.59 L614.40,102.02 L614.90,101.45 L615.40,100.88 L615.90,100.31 L616.40,99.73 L616.90,99.15 L617.40,98.57 L617.90,97.98 L618.40,97.40 L618.90,96.81 L619.40,96.22 L619.90,95.62 L620.40,95.03 L620.90,94.43 L621.40,93.83 L621.90,93.23 L622.40,92.63 L622.90,92.02 L623.40,91.42 L623.90,90.81 L624.40,90.20 L624.90,89.59 L625.40,88.98 L625.90,88.36 L626.40,87.75 L626.90,87.13 L627.40,86.52 L627.90,85.90 L628.40,85.28 L628.90,84.66 L629.40,84.04 L629.90,83.42 L630.40,82.79 L630.90,82.17 L631.40,81.55 L631.90,80.92 L632.40,80.30 L632.90,79.67 L633.40,79.05 L633.90,78.42 L634.40,77.80 L634.90,77.17 L635.40,76.54 L635.90,75.92 L636.40,75.29 L636.90,74.67 L637.40,74.04 L637.90,73.41 L638.40,72.79 L638.90,72.16 L639.40,71.54 L639.90,70.92 L640.40,70.29 L640.90,69.67 L641.40,69.05 L641.90,68.43 L642.40,67.80 L642.90,67.19 L643.40,66.57 L643.90,65.95 L644.40,65.33 L644.90,64.72 L645.40,64.10 L645.90,63.49 L646.40,62.88 L646.90,62.27 L647.40,61.66 L647.90,61.05 L648.40,60.44 L648.90,59.84 L649.40,59.24 L649.90,58.64 L650.40,58.04 L650.90,57.44 L651.40,56.85 L651.90,56.25 L652.40,55.66 L652.90,55.07 L653.40,54.49 L653.90,53.90 L654.40,53.32 L654.90,52.74 L655.40,52.16 L655.90,51.59 L656.40,51.02 L656.90,50.45 L657.40,49.88 L657.90,49.32 L658.40,48.76 L658.90,48.20 L659.40,47.65 L659.90,47.10 L660.40,46.55 L660.90,46.00 L661.40,45.46 L661.90,44.92 L662.20,44.60 L671.00,44.50 L671.00,123.10 L605.00,123.20 L596.00,123.40 L591.40,124.50 L591.20,124.59 L590.70,124.82 L590.20,125.05 L589.70,125.28 L589.20,125.51 L588.70,125.73 L588.20,125.95 L587.70,126.17 L587.20,126.39 L586.70,126.61 L586.20,126.83 L585.70,127.05 L585.20,127.26 L584.70,127.48 L584.20,127.69 L583.70,127.90 L583.20,128.11 L582.70,128.32 L582.20,128.53 L581.70,128.74 L581.20,128.94 L580.70,129.15 L580.20,129.35 L579.70,129.55 L579.20,129.76 L578.70,129.96 L578.20,130.16 L577.70,130.36 L577.20,130.56 L576.70,130.75 L576.20,130.95 L575.70,131.15 L575.20,131.34 L574.70,131.54 L574.20,131.73 L573.70,131.92 L573.20,132.12 L572.70,132.31 L572.20,132.50 L571.70,132.69 L571.20,132.88 L570.70,133.07 L570.20,133.26 L569.70,133.45 L569.20,133.64 L568.70,133.82 L568.20,134.01 L567.70,134.20 L567.20,134.38 L566.70,134.57 L566.20,134.76 L565.70,134.94 L565.20,135.13 L564.70,135.31 L564.20,135.50 L563.70,135.68 L563.20,135.87 L562.70,136.05 L562.20,136.24 L561.70,136.42 L561.20,136.60 L560.70,136.79 L560.20,136.97 L559.70,137.16 L559.20,137.34 L558.70,137.53 L558.20,137.71 L557.70,137.89 L557.20,138.08 L556.70,138.26 L556.20,138.45 L555.70,138.63 L555.20,138.82 L554.70,139.01 L554.20,139.19 L553.70,139.38 L553.20,139.56 L552.70,139.75 L552.20,139.94 L551.70,140.13 L551.20,140.32 L550.70,140.50 L550.20,140.69 L549.70,140.88 L549.20,141.07 L548.70,141.26 L548.20,141.46 L547.70,141.65 L547.20,141.84 L546.70,142.03 L546.20,142.23 L545.70,142.42 L545.20,142.62 L544.70,142.81 L544.20,143.01 L543.70,143.21 L543.20,143.41 L542.70,143.61 L542.20,143.81 L541.70,144.01 L541.20,144.21 L540.70,144.42 L540.20,144.62 L539.70,144.82 L539.20,145.03 L538.70,145.24 L538.20,145.45 L537.70,145.66 L537.20,145.87 L536.70,146.08 L536.20,146.29 L535.70,146.51 L535.20,146.72 L534.70,146.94 L534.20,147.16 L533.70,147.38 L533.20,147.60 L532.70,147.82 L532.20,148.04 L531.70,148.27 L531.20,148.49 L530.70,148.72 L530.20,148.95 L529.70,149.18 L529.20,149.41 L528.70,149.65 L528.20,149.88 L527.70,150.12 L527.20,150.36 L526.70,150.60 Z" fill="#a4a4a4" fill-opacity="0.65"/>
<path d="M526.70,119.40 L527.20,119.48 L527.70,119.56 L528.20,119.64 L528.70,119.72 L529.20,119.80 L529.70,119.89 L530.20,119.97 L530.70,120.06 L531.20,120.15 L531.70,120.24 L532.20,120.33 L532.70,120.42 L533.20,120.51 L533.70,120.60 L534.20,120.70 L534.70,120.79 L535.20,120.88 L535.70,120.98 L536.20,121.08 L536.70,121.17 L537.20,121.27 L537.70,121.37 L538.20,121.47 L538.70,121.56 L539.20,121.66 L539.70,121.76 L540.20,121.86 L540.70,121.96 L541.20,122.06 L541.70,122.16 L542.20,122.26 L542.70,122.36 L543.20,122.46 L543.70,122.55 L544.20,122.65 L544.70,122.75 L545.20,122.85 L545.70,122.95 L546.20,123.05 L546.70,123.14 L547.20,123.24 L547.70,123.34 L548.20,123.43 L548.70,123.53 L549.20,123.62 L549.70,123.72 L550.20,123.81 L550.70,123.90 L551.20,123.99 L551.70,124.09 L552.20,124.17 L552.70,124.26 L553.20,124.35 L553.70,124.44 L554.20,124.52 L554.70,124.61 L555.20,124.69 L555.70,124.77 L556.20,124.85 L556.70,124.93 L557.20,125.01 L557.70,125.09 L558.20,125.16 L558.70,125.23 L559.20,125.31 L559.70,125.38 L560.20,125.44 L560.70,125.51 L561.20,125.57 L561.70,125.64 L562.20,125.70 L562.70,125.76 L563.20,125.81 L563.70,125.87 L564.20,125.92 L564.70,125.97 L565.20,126.02 L565.70,126.07 L566.20,126.11 L566.70,126.15 L567.20,126.19 L567.70,126.23 L568.20,126.26 L568.70,126.30 L569.20,126.33 L569.70,126.35 L570.20,126.38 L570.70,126.40 L571.20,126.42 L571.70,126.43 L572.20,126.45 L572.70,126.46 L573.20,126.46 L573.70,126.47 L574.20,126.47 L574.70,126.47 L575.20,126.46 L575.70,126.45 L576.20,126.44 L576.70,126.43 L577.20,126.41 L577.70,126.39 L578.20,126.36 L578.70,126.33 L579.20,126.30 L579.70,126.27 L580.20,126.23 L580.70,126.18 L581.20,126.14 L581.70,126.09 L582.20,126.03 L582.70,125.98 L583.20,125.91 L583.70,125.85 L584.20,125.78 L584.70,125.70 L585.20,125.63 L585.70,125.54 L586.20,125.46 L586.70,125.37 L587.20,125.27 L587.70,125.17 L588.20,125.07 L588.70,124.96 L589.20,124.85 L589.70,124.73 L590.20,124.61 L590.70,124.49 L591.20,124.35 L591.40,124.30 L591.90,124.05 L592.40,123.79 L592.90,123.54 L593.40,123.28 L593.90,123.03 L594.40,122.77 L594.90,122.51 L595.40,122.26 L595.90,122.00 L596.40,121.74 L596.90,121.48 L597.40,121.22 L597.90,120.96 L598.40,120.70 L598.90,120.44 L599.40,120.18 L599.90,119.91 L600.40,119.65 L600.90,119.39 L601.40,119.12 L601.90,118.86 L602.40,118.59 L602.90,118.33 L603.40,118.06 L603.90,117.79 L604.40,117.53 L604.90,117.26 L605.40,116.99 L605.90,116.72 L606.40,116.45 L606.90,116.18 L607.40,115.91 L607.90,115.64 L608.40,115.37 L608.90,115.10 L609.40,114.83 L609.90,114.56 L610.40,114.28 L610.90,114.01 L611.40,113.74 L611.90,113.46 L612.40,113.19 L612.90,112.91 L613.40,112.64 L613.90,112.36 L614.40,112.08 L614.90,111.81 L615.40,111.53 L615.90,111.25 L616.40,110.97 L616.90,110.69 L617.40,110.42 L617.90,110.14 L618.40,109.86 L618.90,109.58 L619.40,109.30 L619.90,109.01 L620.40,108.73 L620.90,108.45 L621.40,108.17 L621.90,107.89 L622.40,107.60 L622.90,107.32 L623.40,107.04 L623.90,106.75 L624.40,106.47 L624.90,106.18 L625.40,105.90 L625.90,105.61 L626.40,105.33 L626.90,105.04 L627.40,104.76 L627.90,104.47 L628.40,104.18 L628.90,103.90 L629.40,103.61 L629.90,103.32 L630.40,103.03 L630.90,102.74 L631.40,102.45 L631.90,102.17 L632.40,101.88 L632.90,101.59 L633.40,101.30 L633.90,101.01 L634.40,100.71 L634.90,100.42 L635.40,100.13 L635.90,99.84 L636.40,99.55 L636.90,99.26 L637.40,98.97 L637.90,98.67 L638.40,98.38 L638.90,98.09 L639.40,97.79 L639.90,97.50 L640.40,97.21 L640.90,96.91 L641.40,96.62 L641.90,96.33 L642.40,96.03 L642.90,95.74 L643.40,95.44 L643.90,95.15 L644.40,94.85 L644.90,94.55 L645.40,94.26 L645.90,93.96 L646.40,93.67 L646.90,93.37 L647.40,93.07 L647.90,92.78 L648.40,92.48 L648.90,92.18 L649.40,91.89 L649.90,91.59 L650.40,91.29 L650.90,90.99 L651.40,90.70 L651.90,90.40 L652.40,90.10 L652.90,89.80 L653.40,89.50 L653.90,89.20 L654.40,88.91 L654.90,88.61 L655.40,88.31 L655.90,88.01 L656.40,87.71 L656.90,87.41 L657.40,87.11 L657.90,86.81 L658.40,86.51 L658.90,86.21 L659.40,85.91 L659.90,85.61 L660.40,85.31 L660.90,85.01 L661.40,84.71 L661.90,84.41 L662.40,84.11 L662.90,83.81 L663.40,83.51 L663.90,83.21 L664.40,82.91 L664.90,82.61 L665.40,82.31 L665.90,82.01 L666.40,81.71 L666.90,81.41 L667.40,81.11 L667.90,80.80 L668.40,80.50 L668.90,80.20 L669.40,79.90 L669.90,79.60 L670.40,79.30" fill="none" stroke="#4a4a4a" stroke-width="1.0" stroke-linejoin="round"/>
<path d="M499.5,40.6 V169.5 H684.0" fill="none" stroke="#606060" stroke-width="1.1"/>
<line x1="496.4" y1="149.50" x2="499.5" y2="149.50" stroke="#606060" stroke-width="1"/>
<text transform="translate(497.30,152.75) scale(0.92,1)" class="tk" text-anchor="end">.8</text>
<line x1="496.4" y1="124.50" x2="499.5" y2="124.50" stroke="#606060" stroke-width="1"/>
<text transform="translate(495.55,127.75) scale(0.92,1)" class="tk" text-anchor="end">1</text>
<line x1="496.4" y1="103.50" x2="499.5" y2="103.50" stroke="#606060" stroke-width="1"/>
<text transform="translate(497.45,106.75) scale(0.92,1)" class="tk" text-anchor="end">1.2</text>
<line x1="496.4" y1="85.50" x2="499.5" y2="85.50" stroke="#606060" stroke-width="1"/>
<text transform="translate(497.45,88.75) scale(0.92,1)" class="tk" text-anchor="end">1.4</text>
<line x1="496.4" y1="70.50" x2="499.5" y2="70.50" stroke="#606060" stroke-width="1"/>
<text transform="translate(497.45,73.75) scale(0.92,1)" class="tk" text-anchor="end">1.6</text>
<line x1="496.4" y1="56.50" x2="499.5" y2="56.50" stroke="#606060" stroke-width="1"/>
<text transform="translate(497.45,59.75) scale(0.92,1)" class="tk" text-anchor="end">1.8</text>
<line x1="496.4" y1="44.50" x2="499.5" y2="44.50" stroke="#606060" stroke-width="1"/>
<text transform="translate(496.67,47.75) scale(0.92,1)" class="tk" text-anchor="end">2</text>
<line x1="503.15" y1="169.5" x2="503.15" y2="172.1" stroke="#606060" stroke-width="1"/>
<text transform="translate(503.55,178.60) scale(0.92,1)" class="tk" text-anchor="middle">−3</text>
<line x1="532.60" y1="169.5" x2="532.60" y2="172.1" stroke="#606060" stroke-width="1"/>
<text transform="translate(533.00,178.60) scale(0.92,1)" class="tk" text-anchor="middle">−2</text>
<line x1="562.05" y1="169.5" x2="562.05" y2="172.1" stroke="#606060" stroke-width="1"/>
<text transform="translate(562.45,178.60) scale(0.92,1)" class="tk" text-anchor="middle">−1</text>
<line x1="591.50" y1="169.5" x2="591.50" y2="172.1" stroke="#606060" stroke-width="1"/>
<text transform="translate(591.50,178.60) scale(0.92,1)" class="tk" text-anchor="middle">0</text>
<line x1="620.95" y1="169.5" x2="620.95" y2="172.1" stroke="#606060" stroke-width="1"/>
<text transform="translate(620.95,178.60) scale(0.92,1)" class="tk" text-anchor="middle">1</text>
<line x1="650.40" y1="169.5" x2="650.40" y2="172.1" stroke="#606060" stroke-width="1"/>
<text transform="translate(650.40,178.60) scale(0.92,1)" class="tk" text-anchor="middle">2</text>
<line x1="679.85" y1="169.5" x2="679.85" y2="172.1" stroke="#606060" stroke-width="1"/>
<text transform="translate(679.85,178.60) scale(0.92,1)" class="tk" text-anchor="middle">3</text>
<text x="539.63" y="188.7" class="at" textLength="109.9" lengthAdjust="spacing">Change of phosphate</text>
<text transform="translate(478.0,137.5) rotate(-90)" class="at" textLength="72.8" lengthAdjust="spacing">Hazard Ratios</text>
<line x1="32.0" y1="360.50" x2="214.7" y2="360.50" stroke="#ebf1f1" stroke-width="1"/>
<line x1="32.0" y1="314.50" x2="214.7" y2="314.50" stroke="#ebf1f1" stroke-width="1"/>
<line x1="32.0" y1="296.50" x2="214.7" y2="296.50" stroke="#ebf1f1" stroke-width="1"/>
<line x1="32.0" y1="281.50" x2="214.7" y2="281.50" stroke="#ebf1f1" stroke-width="1"/>
<line x1="32.0" y1="267.50" x2="214.7" y2="267.50" stroke="#ebf1f1" stroke-width="1"/>
<line x1="32.0" y1="255.50" x2="214.7" y2="255.50" stroke="#ebf1f1" stroke-width="1"/>
<line x1="30.0" y1="335.50" x2="214.7" y2="335.50" stroke="#585858" stroke-width="1" stroke-dasharray="3.95 1"/>
<line x1="122.50" y1="251.3" x2="122.50" y2="380.5" stroke="#585858" stroke-width="1" stroke-dasharray="3.95 1" stroke-dashoffset="3.55"/>
<path d="M49.10,336.70 L49.60,336.76 L50.10,336.82 L50.60,336.89 L51.10,336.96 L51.60,337.03 L52.10,337.11 L52.60,337.19 L53.10,337.27 L53.60,337.36 L54.10,337.45 L54.60,337.54 L55.10,337.64 L55.60,337.73 L56.10,337.83 L56.60,337.94 L57.10,338.04 L57.60,338.15 L58.10,338.26 L58.60,338.37 L59.10,338.49 L59.60,338.60 L60.10,338.72 L60.60,338.84 L61.10,338.96 L61.60,339.08 L62.10,339.21 L62.60,339.33 L63.10,339.46 L63.60,339.59 L64.10,339.72 L64.60,339.85 L65.10,339.98 L65.60,340.11 L66.10,340.24 L66.60,340.38 L67.10,340.51 L67.60,340.64 L68.10,340.78 L68.60,340.91 L69.10,341.05 L69.60,341.18 L70.10,341.32 L70.60,341.45 L71.10,341.58 L71.60,341.72 L72.10,341.85 L72.60,341.98 L73.10,342.11 L73.60,342.24 L74.10,342.37 L74.60,342.50 L75.10,342.63 L75.60,342.75 L76.10,342.88 L76.60,343.00 L77.10,343.13 L77.60,343.25 L78.10,343.37 L78.60,343.48 L79.10,343.60 L79.60,343.71 L80.10,343.82 L80.60,343.93 L81.10,344.04 L81.60,344.14 L82.10,344.24 L82.60,344.34 L83.10,344.44 L83.60,344.53 L84.10,344.63 L84.60,344.71 L85.10,344.80 L85.60,344.88 L86.10,344.96 L86.60,345.03 L87.10,345.11 L87.60,345.17 L88.10,345.24 L88.60,345.30 L89.10,345.36 L89.60,345.41 L90.10,345.46 L90.60,345.50 L91.10,345.55 L91.60,345.58 L92.10,345.61 L92.60,345.64 L93.10,345.66 L93.60,345.68 L94.10,345.70 L94.60,345.70 L95.10,345.71 L95.60,345.71 L96.10,345.70 L96.60,345.69 L97.10,345.67 L97.60,345.65 L98.10,345.62 L98.60,345.58 L99.10,345.54 L99.60,345.50 L100.10,345.44 L100.60,345.39 L101.10,345.32 L101.60,345.25 L102.10,345.17 L102.60,345.09 L103.10,345.00 L103.60,344.90 L104.10,344.80 L104.60,344.69 L105.10,344.57 L105.60,344.45 L106.10,344.32 L106.60,344.18 L107.10,344.03 L107.60,343.88 L108.10,343.72 L108.60,343.55 L109.10,343.37 L109.60,343.19 L110.10,342.99 L110.60,342.79 L111.10,342.59 L111.60,342.37 L112.10,342.14 L112.60,341.91 L113.10,341.67 L113.60,341.42 L114.10,341.16 L114.60,340.89 L115.10,340.61 L115.60,340.32 L116.10,340.03 L116.60,339.72 L117.10,339.41 L117.60,339.09 L118.10,338.75 L118.60,338.41 L119.10,338.06 L119.60,337.70 L120.10,337.33 L120.60,336.94 L121.10,336.55 L121.60,336.15 L122.10,335.74 L122.50,335.40 L123.00,334.57 L123.50,333.83 L124.00,333.08 L124.50,332.32 L125.00,331.54 L125.50,330.75 L126.00,329.94 L126.50,329.13 L127.00,328.31 L127.50,327.47 L128.00,326.62 L128.50,325.76 L129.00,324.90 L129.50,324.02 L130.00,323.13 L130.50,322.23 L131.00,321.33 L131.50,320.41 L132.00,319.49 L132.50,318.56 L133.00,317.62 L133.50,316.67 L134.00,315.72 L134.50,314.76 L135.00,313.79 L135.50,312.81 L136.00,311.83 L136.50,310.84 L137.00,309.85 L137.50,308.85 L138.00,307.85 L138.50,306.84 L139.00,305.82 L139.50,304.80 L140.00,303.78 L140.50,302.76 L141.00,301.73 L141.50,300.69 L142.00,299.66 L142.50,298.62 L143.00,297.58 L143.50,296.54 L144.00,295.49 L144.50,294.45 L145.00,293.40 L145.50,292.35 L146.00,291.30 L146.50,290.25 L147.00,289.20 L147.50,288.15 L148.00,287.10 L148.50,286.05 L149.00,285.01 L149.50,283.96 L150.00,282.91 L150.50,281.87 L151.00,280.83 L151.50,279.79 L152.00,278.75 L152.50,277.72 L153.00,276.69 L153.50,275.66 L154.00,274.64 L154.50,273.62 L155.00,272.61 L155.50,271.60 L156.00,270.59 L156.50,269.59 L157.00,268.60 L157.50,267.61 L158.00,266.63 L158.50,265.65 L159.00,264.68 L159.50,263.72 L160.00,262.76 L160.50,261.81 L161.00,260.87 L161.50,259.94 L162.00,259.01 L162.50,258.10 L163.00,257.19 L163.50,256.29 L164.00,255.56 L192.80,255.56 L192.80,271.50 L192.50,271.74 L192.00,272.15 L191.50,272.55 L191.00,272.96 L190.50,273.37 L190.00,273.78 L189.50,274.20 L189.00,274.62 L188.50,275.03 L188.00,275.46 L187.50,275.88 L187.00,276.30 L186.50,276.73 L186.00,277.16 L185.50,277.59 L185.00,278.03 L184.50,278.46 L184.00,278.90 L183.50,279.34 L183.00,279.78 L182.50,280.22 L182.00,280.66 L181.50,281.11 L181.00,281.55 L180.50,282.00 L180.00,282.45 L179.50,282.90 L179.00,283.36 L178.50,283.81 L178.00,284.27 L177.50,284.73 L177.00,285.18 L176.50,285.64 L176.00,286.10 L175.50,286.57 L175.00,287.03 L174.50,287.49 L174.00,287.96 L173.50,288.43 L173.00,288.90 L172.50,289.36 L172.00,289.83 L171.50,290.31 L171.00,290.78 L170.50,291.25 L170.00,291.72 L169.50,292.20 L169.00,292.67 L168.50,293.15 L168.00,293.62 L167.50,294.10 L167.00,294.58 L166.50,295.06 L166.00,295.54 L165.50,296.02 L165.00,296.50 L164.50,296.98 L164.00,297.46 L163.50,297.94 L163.00,298.42 L162.50,298.90 L162.00,299.39 L161.50,299.87 L161.00,300.35 L160.50,300.83 L160.00,301.32 L159.50,301.80 L159.00,302.28 L158.50,302.77 L158.00,303.25 L157.50,303.73 L157.00,304.22 L156.50,304.70 L156.00,305.18 L155.50,305.67 L155.00,306.15 L154.50,306.63 L154.00,307.12 L153.50,307.60 L153.00,308.08 L152.50,308.56 L152.00,309.04 L151.50,309.52 L151.00,310.00 L150.50,310.48 L150.00,310.96 L149.50,311.44 L149.00,311.92 L148.50,312.40 L148.00,312.87 L147.50,313.35 L147.00,313.82 L146.50,314.30 L146.00,314.77 L145.50,315.25 L145.00,315.72 L144.50,316.19 L144.00,316.66 L143.50,317.13 L143.00,317.60 L142.50,318.06 L142.00,318.53 L141.50,318.99 L141.00,319.46 L140.50,319.92 L140.00,320.38 L139.50,320.84 L139.00,321.30 L138.50,321.76 L138.00,322.21 L137.50,322.67 L137.00,323.12 L136.50,323.57 L136.00,324.03 L135.50,324.47 L135.00,324.92 L134.50,325.37 L134.00,325.81 L133.50,326.25 L133.00,326.69 L132.50,327.13 L132.00,327.57 L131.50,328.01 L131.00,328.44 L130.50,328.87 L130.00,329.30 L129.50,329.73 L129.00,330.16 L128.50,330.58 L128.00,331.00 L127.50,331.42 L127.00,331.84 L126.50,332.26 L126.00,332.67 L125.50,333.08 L125.00,333.49 L124.50,333.90 L124.00,334.30 L123.50,334.70 L123.00,335.10 L122.50,335.60 L122.10,336.24 L121.60,337.03 L121.10,337.80 L120.60,338.56 L120.10,339.30 L119.60,340.02 L119.10,340.73 L118.60,341.43 L118.10,342.11 L117.60,342.77 L117.10,343.42 L116.60,344.06 L116.10,344.68 L115.60,345.30 L115.10,345.90 L114.60,346.48 L114.10,347.06 L113.60,347.62 L113.10,348.17 L112.60,348.72 L112.10,349.25 L111.60,349.77 L111.10,350.28 L110.60,350.78 L110.10,351.27 L109.60,351.76 L109.10,352.23 L108.60,352.70 L108.10,353.16 L107.60,353.61 L107.10,354.05 L106.60,354.49 L106.10,354.92 L105.60,355.35 L105.10,355.76 L104.60,356.18 L104.10,356.59 L103.60,356.99 L103.10,357.39 L102.60,357.78 L102.10,358.17 L101.60,358.56 L101.10,358.94 L100.60,359.32 L100.10,359.70 L99.60,360.08 L99.10,360.45 L98.60,360.82 L98.10,361.19 L97.60,361.56 L97.10,361.93 L96.60,362.30 L96.10,362.67 L95.60,363.04 L95.10,363.41 L94.60,363.79 L94.10,364.16 L93.60,364.53 L93.10,364.91 L92.60,365.29 L92.10,365.67 L91.60,366.06 L91.10,366.45 L90.60,366.84 L90.10,367.24 L89.60,367.64 L89.10,368.05 L88.60,368.46 L88.10,368.87 L87.60,369.30 L87.10,369.72 L86.60,370.16 L86.10,370.60 L85.60,371.05 L85.10,371.51 L84.60,371.97 L84.10,372.44 L83.60,372.92 L83.10,373.41 L82.60,373.91 L82.10,374.42 L81.60,374.94 L81.10,375.46 L80.60,376.00 L49.00,376.03 Z" fill="#a4a4a4" fill-opacity="0.65"/>
<path d="M48.90,370.40 L49.40,370.15 L49.90,369.91 L50.40,369.67 L50.90,369.44 L51.40,369.21 L51.90,368.98 L52.40,368.76 L52.90,368.54 L53.40,368.33 L53.90,368.12 L54.40,367.91 L54.90,367.71 L55.40,367.51 L55.90,367.31 L56.40,367.12 L56.90,366.93 L57.40,366.75 L57.90,366.56 L58.40,366.38 L58.90,366.21 L59.40,366.03 L59.90,365.86 L60.40,365.69 L60.90,365.52 L61.40,365.36 L61.90,365.20 L62.40,365.04 L62.90,364.88 L63.40,364.72 L63.90,364.57 L64.40,364.42 L64.90,364.27 L65.40,364.12 L65.90,363.97 L66.40,363.83 L66.90,363.68 L67.40,363.54 L67.90,363.40 L68.40,363.26 L68.90,363.12 L69.40,362.98 L69.90,362.84 L70.40,362.71 L70.90,362.57 L71.40,362.44 L71.90,362.30 L72.40,362.17 L72.90,362.03 L73.40,361.90 L73.90,361.77 L74.40,361.63 L74.90,361.50 L75.40,361.37 L75.90,361.23 L76.40,361.10 L76.90,360.96 L77.40,360.83 L77.90,360.69 L78.40,360.56 L78.90,360.42 L79.40,360.28 L79.90,360.15 L80.40,360.01 L80.90,359.86 L81.40,359.72 L81.90,359.58 L82.40,359.44 L82.90,359.29 L83.40,359.14 L83.90,358.99 L84.40,358.84 L84.90,358.69 L85.40,358.53 L85.90,358.38 L86.40,358.22 L86.90,358.06 L87.40,357.89 L87.90,357.73 L88.40,357.56 L88.90,357.39 L89.40,357.22 L89.90,357.04 L90.40,356.86 L90.90,356.68 L91.40,356.49 L91.90,356.31 L92.40,356.11 L92.90,355.92 L93.40,355.72 L93.90,355.52 L94.40,355.32 L94.90,355.11 L95.40,354.90 L95.90,354.68 L96.40,354.46 L96.90,354.24 L97.40,354.01 L97.90,353.78 L98.40,353.54 L98.90,353.30 L99.40,353.05 L99.90,352.81 L100.40,352.55 L100.90,352.29 L101.40,352.03 L101.90,351.76 L102.40,351.49 L102.90,351.21 L103.40,350.92 L103.90,350.63 L104.40,350.34 L104.90,350.04 L105.40,349.73 L105.90,349.42 L106.40,349.11 L106.90,348.78 L107.40,348.45 L107.90,348.12 L108.40,347.78 L108.90,347.43 L109.40,347.08 L109.90,346.72 L110.40,346.35 L110.90,345.98 L111.40,345.60 L111.90,345.22 L112.40,344.83 L112.90,344.43 L113.40,344.02 L113.90,343.61 L114.40,343.19 L114.90,342.76 L115.40,342.32 L115.90,341.88 L116.40,341.43 L116.90,340.97 L117.40,340.51 L117.90,340.03 L118.40,339.55 L118.90,339.06 L119.40,338.57 L119.90,338.06 L120.40,337.55 L120.90,337.03 L121.40,336.50 L121.90,335.96 L122.40,335.41 L122.50,335.30 L123.00,334.66 L123.50,334.02 L124.00,333.38 L124.50,332.74 L125.00,332.09 L125.50,331.44 L126.00,330.79 L126.50,330.14 L127.00,329.48 L127.50,328.83 L128.00,328.17 L128.50,327.50 L129.00,326.84 L129.50,326.17 L130.00,325.51 L130.50,324.84 L131.00,324.16 L131.50,323.49 L132.00,322.81 L132.50,322.14 L133.00,321.46 L133.50,320.77 L134.00,320.09 L134.50,319.41 L135.00,318.72 L135.50,318.03 L136.00,317.34 L136.50,316.65 L137.00,315.95 L137.50,315.26 L138.00,314.56 L138.50,313.86 L139.00,313.16 L139.50,312.46 L140.00,311.76 L140.50,311.05 L141.00,310.35 L141.50,309.64 L142.00,308.93 L142.50,308.22 L143.00,307.51 L143.50,306.79 L144.00,306.08 L144.50,305.36 L145.00,304.65 L145.50,303.93 L146.00,303.21 L146.50,302.49 L147.00,301.77 L147.50,301.05 L148.00,300.32 L148.50,299.60 L149.00,298.87 L149.50,298.15 L150.00,297.42 L150.50,296.69 L151.00,295.96 L151.50,295.23 L152.00,294.50 L152.50,293.77 L153.00,293.03 L153.50,292.30 L154.00,291.56 L154.50,290.83 L155.00,290.09 L155.50,289.36 L156.00,288.62 L156.50,287.88 L157.00,287.14 L157.50,286.40 L158.00,285.67 L158.50,284.93 L159.00,284.18 L159.50,283.44 L160.00,282.70 L160.50,281.96 L161.00,281.22 L161.50,280.48 L162.00,279.73 L162.50,278.99 L163.00,278.25 L163.50,277.50 L164.00,276.76 L164.50,276.02 L165.00,275.27 L165.50,274.53 L166.00,273.78 L166.50,273.04 L167.00,272.29 L167.50,271.55 L168.00,270.80 L168.50,270.06 L169.00,269.31 L169.50,268.57 L170.00,267.83 L170.50,267.08 L171.00,266.34 L171.50,265.59 L172.00,264.85 L172.50,264.11 L173.00,263.36 L173.50,262.62 L174.00,261.88 L174.50,261.13 L175.00,260.39 L175.50,259.65 L176.00,258.91 L176.50,258.17 L177.00,257.43 L177.50,256.69 L178.00,255.95 L178.26,255.56" fill="none" stroke="#4a4a4a" stroke-width="1.0" stroke-linejoin="round"/>
<path d="M30.5,251.3 V380.5 H214.7" fill="none" stroke="#606060" stroke-width="1.1"/>
<line x1="27.4" y1="360.50" x2="30.5" y2="360.50" stroke="#606060" stroke-width="1"/>
<text transform="translate(28.30,363.75) scale(0.92,1)" class="tk" text-anchor="end">.8</text>
<line x1="27.4" y1="335.50" x2="30.5" y2="335.50" stroke="#606060" stroke-width="1"/>
<text transform="translate(26.55,338.75) scale(0.92,1)" class="tk" text-anchor="end">1</text>
<line x1="27.4" y1="314.50" x2="30.5" y2="314.50" stroke="#606060" stroke-width="1"/>
<text transform="translate(28.45,317.75) scale(0.92,1)" class="tk" text-anchor="end">1.2</text>
<line x1="27.4" y1="296.50" x2="30.5" y2="296.50" stroke="#606060" stroke-width="1"/>
<text transform="translate(28.45,299.75) scale(0.92,1)" class="tk" text-anchor="end">1.4</text>
<line x1="27.4" y1="281.50" x2="30.5" y2="281.50" stroke="#606060" stroke-width="1"/>
<text transform="translate(28.45,284.75) scale(0.92,1)" class="tk" text-anchor="end">1.6</text>
<line x1="27.4" y1="267.50" x2="30.5" y2="267.50" stroke="#606060" stroke-width="1"/>
<text transform="translate(28.45,270.75) scale(0.92,1)" class="tk" text-anchor="end">1.8</text>
<line x1="27.4" y1="255.50" x2="30.5" y2="255.50" stroke="#606060" stroke-width="1"/>
<text transform="translate(27.67,258.75) scale(0.92,1)" class="tk" text-anchor="end">2</text>
<line x1="33.49" y1="380.5" x2="33.49" y2="383.1" stroke="#606060" stroke-width="1"/>
<text transform="translate(33.89,389.60) scale(0.92,1)" class="tk" text-anchor="middle">−3</text>
<line x1="63.16" y1="380.5" x2="63.16" y2="383.1" stroke="#606060" stroke-width="1"/>
<text transform="translate(63.56,389.60) scale(0.92,1)" class="tk" text-anchor="middle">−2</text>
<line x1="92.83" y1="380.5" x2="92.83" y2="383.1" stroke="#606060" stroke-width="1"/>
<text transform="translate(93.23,389.60) scale(0.92,1)" class="tk" text-anchor="middle">−1</text>
<line x1="122.50" y1="380.5" x2="122.50" y2="383.1" stroke="#606060" stroke-width="1"/>
<text transform="translate(122.50,389.60) scale(0.92,1)" class="tk" text-anchor="middle">0</text>
<line x1="152.17" y1="380.5" x2="152.17" y2="383.1" stroke="#606060" stroke-width="1"/>
<text transform="translate(152.17,389.60) scale(0.92,1)" class="tk" text-anchor="middle">1</text>
<line x1="181.84" y1="380.5" x2="181.84" y2="383.1" stroke="#606060" stroke-width="1"/>
<text transform="translate(181.84,389.60) scale(0.92,1)" class="tk" text-anchor="middle">2</text>
<line x1="211.51" y1="380.5" x2="211.51" y2="383.1" stroke="#606060" stroke-width="1"/>
<text transform="translate(211.51,389.60) scale(0.92,1)" class="tk" text-anchor="middle">3</text>
<text x="70.63" y="399.7" class="at" textLength="109.9" lengthAdjust="spacing">Change of phosphate</text>
<text transform="translate(9.0,348.5) rotate(-90)" class="at" textLength="72.8" lengthAdjust="spacing">Hazard Ratios</text>
<line x1="266.0" y1="360.50" x2="448.9" y2="360.50" stroke="#ebf1f1" stroke-width="1"/>
<line x1="266.0" y1="314.50" x2="448.9" y2="314.50" stroke="#ebf1f1" stroke-width="1"/>
<line x1="266.0" y1="296.50" x2="448.9" y2="296.50" stroke="#ebf1f1" stroke-width="1"/>
<line x1="266.0" y1="281.50" x2="448.9" y2="281.50" stroke="#ebf1f1" stroke-width="1"/>
<line x1="266.0" y1="267.50" x2="448.9" y2="267.50" stroke="#ebf1f1" stroke-width="1"/>
<line x1="266.0" y1="255.50" x2="448.9" y2="255.50" stroke="#ebf1f1" stroke-width="1"/>
<line x1="264.0" y1="335.50" x2="448.9" y2="335.50" stroke="#585858" stroke-width="1" stroke-dasharray="3.95 1"/>
<line x1="356.80" y1="251.3" x2="356.80" y2="380.5" stroke="#585858" stroke-width="1" stroke-dasharray="3.95 1" stroke-dashoffset="3.55"/>
<path d="M283.10,280.40 L283.60,280.85 L284.10,281.31 L284.60,281.78 L285.10,282.25 L285.60,282.73 L286.10,283.21 L286.60,283.70 L287.10,284.20 L287.60,284.70 L288.10,285.21 L288.60,285.72 L289.10,286.24 L289.60,286.76 L290.10,287.28 L290.60,287.82 L291.10,288.35 L291.60,288.89 L292.10,289.43 L292.60,289.98 L293.10,290.53 L293.60,291.09 L294.10,291.64 L294.60,292.21 L295.10,292.77 L295.60,293.34 L296.10,293.91 L296.60,294.48 L297.10,295.06 L297.60,295.63 L298.10,296.21 L298.60,296.79 L299.10,297.38 L299.60,297.96 L300.10,298.55 L300.60,299.14 L301.10,299.73 L301.60,300.32 L302.10,300.91 L302.60,301.50 L303.10,302.09 L303.60,302.69 L304.10,303.28 L304.60,303.87 L305.10,304.46 L305.60,305.06 L306.10,305.65 L306.60,306.24 L307.10,306.83 L307.60,307.42 L308.10,308.01 L308.60,308.60 L309.10,309.19 L309.60,309.77 L310.10,310.36 L310.60,310.94 L311.10,311.52 L311.60,312.10 L312.10,312.67 L312.60,313.24 L313.10,313.81 L313.60,314.38 L314.10,314.95 L314.60,315.51 L315.10,316.07 L315.60,316.62 L316.10,317.17 L316.60,317.72 L317.10,318.27 L317.60,318.81 L318.10,319.34 L318.60,319.87 L319.10,320.40 L319.60,320.92 L320.10,321.44 L320.60,321.95 L321.10,322.46 L321.60,322.96 L322.10,323.46 L322.60,323.95 L323.10,324.43 L323.60,324.91 L324.10,325.39 L324.60,325.85 L325.10,326.31 L325.60,326.77 L326.10,327.21 L326.60,327.65 L327.10,328.09 L327.60,328.51 L328.10,328.93 L328.60,329.34 L329.10,329.75 L329.60,330.14 L330.10,330.53 L330.60,330.91 L331.10,331.28 L331.60,331.65 L332.10,332.00 L332.60,332.34 L333.10,332.68 L333.60,333.01 L334.10,333.33 L334.60,333.64 L335.10,333.94 L335.60,334.22 L336.10,334.50 L336.60,334.77 L337.10,335.03 L337.60,335.28 L338.10,335.52 L338.60,335.75 L339.10,335.97 L339.60,336.17 L340.10,336.37 L340.60,336.55 L341.10,336.72 L341.60,336.88 L342.10,337.03 L342.60,337.17 L343.10,337.29 L343.60,337.40 L344.10,337.50 L344.60,337.59 L345.10,337.67 L345.60,337.73 L346.10,337.78 L346.60,337.81 L347.10,337.83 L347.60,337.84 L348.10,337.84 L348.60,337.82 L349.10,337.79 L349.60,337.74 L350.10,337.68 L350.60,337.60 L351.10,337.51 L351.60,337.41 L352.10,337.29 L352.60,337.15 L353.10,337.00 L353.60,336.83 L354.10,336.65 L354.60,336.46 L355.10,336.24 L355.60,336.01 L356.10,335.77 L356.60,335.51 L356.80,335.40 L357.30,334.56 L357.80,333.82 L358.30,333.07 L358.80,332.32 L359.30,331.57 L359.80,330.80 L360.30,330.04 L360.80,329.27 L361.30,328.49 L361.80,327.71 L362.30,326.92 L362.80,326.13 L363.30,325.34 L363.80,324.54 L364.30,323.74 L364.80,322.93 L365.30,322.12 L365.80,321.30 L366.30,320.48 L366.80,319.66 L367.30,318.84 L367.80,318.01 L368.30,317.17 L368.80,316.33 L369.30,315.49 L369.80,314.65 L370.30,313.80 L370.80,312.95 L371.30,312.10 L371.80,311.24 L372.30,310.38 L372.80,309.52 L373.30,308.66 L373.80,307.79 L374.30,306.92 L374.80,306.05 L375.30,305.17 L375.80,304.29 L376.30,303.41 L376.80,302.53 L377.30,301.65 L377.80,300.76 L378.30,299.87 L378.80,298.98 L379.30,298.09 L379.80,297.20 L380.30,296.30 L380.80,295.41 L381.30,294.51 L381.80,293.61 L382.30,292.71 L382.80,291.81 L383.30,290.90 L383.80,290.00 L384.30,289.09 L384.80,288.19 L385.30,287.28 L385.80,286.37 L386.30,285.46 L386.80,284.56 L387.30,283.65 L387.80,282.74 L388.30,281.83 L388.80,280.92 L389.30,280.01 L389.80,279.09 L390.30,278.18 L390.80,277.27 L391.30,276.36 L391.80,275.45 L392.30,274.54 L392.80,273.63 L393.30,272.72 L393.80,271.82 L394.30,270.91 L394.80,270.00 L395.30,269.10 L395.80,268.19 L396.30,267.29 L396.80,266.38 L397.30,265.48 L397.80,264.58 L398.30,263.68 L398.80,262.78 L399.30,261.88 L399.80,260.99 L400.30,260.09 L400.80,259.20 L401.30,258.31 L401.80,257.42 L402.30,256.54 L402.80,255.65 L403.00,255.56 L426.80,255.56 L426.70,290.60 L426.30,290.84 L425.80,291.14 L425.30,291.43 L424.80,291.74 L424.30,292.04 L423.80,292.34 L423.30,292.64 L422.80,292.95 L422.30,293.26 L421.80,293.56 L421.30,293.87 L420.80,294.18 L420.30,294.49 L419.80,294.81 L419.30,295.12 L418.80,295.43 L418.30,295.75 L417.80,296.06 L417.30,296.38 L416.80,296.70 L416.30,297.02 L415.80,297.34 L415.30,297.66 L414.80,297.98 L414.30,298.30 L413.80,298.62 L413.30,298.95 L412.80,299.27 L412.30,299.60 L411.80,299.92 L411.30,300.25 L410.80,300.58 L410.30,300.91 L409.80,301.24 L409.30,301.56 L408.80,301.89 L408.30,302.23 L407.80,302.56 L407.30,302.89 L406.80,303.22 L406.30,303.55 L405.80,303.89 L405.30,304.22 L404.80,304.55 L404.30,304.89 L403.80,305.22 L403.30,305.56 L402.80,305.89 L402.30,306.23 L401.80,306.56 L401.30,306.90 L400.80,307.24 L400.30,307.58 L399.80,307.91 L399.30,308.25 L398.80,308.59 L398.30,308.92 L397.80,309.26 L397.30,309.60 L396.80,309.94 L396.30,310.28 L395.80,310.62 L395.30,310.95 L394.80,311.29 L394.30,311.63 L393.80,311.97 L393.30,312.31 L392.80,312.65 L392.30,312.98 L391.80,313.32 L391.30,313.66 L390.80,314.00 L390.30,314.33 L389.80,314.67 L389.30,315.01 L388.80,315.35 L388.30,315.68 L387.80,316.02 L387.30,316.36 L386.80,316.69 L386.30,317.03 L385.80,317.36 L385.30,317.70 L384.80,318.03 L384.30,318.37 L383.80,318.70 L383.30,319.03 L382.80,319.36 L382.30,319.70 L381.80,320.03 L381.30,320.36 L380.80,320.69 L380.30,321.02 L379.80,321.35 L379.30,321.68 L378.80,322.01 L378.30,322.33 L377.80,322.66 L377.30,322.99 L376.80,323.31 L376.30,323.64 L375.80,323.96 L375.30,324.28 L374.80,324.61 L374.30,324.93 L373.80,325.25 L373.30,325.57 L372.80,325.89 L372.30,326.20 L371.80,326.52 L371.30,326.84 L370.80,327.15 L370.30,327.47 L369.80,327.78 L369.30,328.09 L368.80,328.40 L368.30,328.71 L367.80,329.02 L367.30,329.33 L366.80,329.64 L366.30,329.94 L365.80,330.25 L365.30,330.55 L364.80,330.85 L364.30,331.15 L363.80,331.45 L363.30,331.75 L362.80,332.05 L362.30,332.34 L361.80,332.64 L361.30,332.93 L360.80,333.22 L360.30,333.51 L359.80,333.80 L359.30,334.09 L358.80,334.37 L358.30,334.66 L357.80,334.94 L357.30,335.22 L356.80,335.60 L356.50,335.91 L356.00,336.42 L355.50,336.91 L355.00,337.40 L354.50,337.87 L354.00,338.33 L353.50,338.77 L353.00,339.21 L352.50,339.63 L352.00,340.05 L351.50,340.45 L351.00,340.84 L350.50,341.21 L350.00,341.58 L349.50,341.94 L349.00,342.28 L348.50,342.62 L348.00,342.94 L347.50,343.25 L347.00,343.55 L346.50,343.84 L346.00,344.12 L345.50,344.40 L345.00,344.66 L344.50,344.91 L344.00,345.15 L343.50,345.38 L343.00,345.60 L342.50,345.81 L342.00,346.01 L341.50,346.20 L341.00,346.38 L340.50,346.56 L340.00,346.72 L339.50,346.88 L339.00,347.02 L338.50,347.16 L338.00,347.29 L337.50,347.41 L337.00,347.52 L336.50,347.62 L336.00,347.71 L335.50,347.80 L335.00,347.87 L334.50,347.94 L334.00,348.01 L333.50,348.06 L333.00,348.10 L332.50,348.14 L332.00,348.17 L331.50,348.20 L331.00,348.21 L330.50,348.22 L330.00,348.22 L329.50,348.21 L329.00,348.20 L283.10,348.50 Z" fill="#a4a4a4" fill-opacity="0.65"/>
<path d="M283.30,314.40 L283.80,314.66 L284.30,314.91 L284.80,315.17 L285.30,315.43 L285.80,315.69 L286.30,315.96 L286.80,316.22 L287.30,316.49 L287.80,316.76 L288.30,317.03 L288.80,317.30 L289.30,317.58 L289.80,317.85 L290.30,318.13 L290.80,318.41 L291.30,318.68 L291.80,318.96 L292.30,319.25 L292.80,319.53 L293.30,319.81 L293.80,320.10 L294.30,320.38 L294.80,320.67 L295.30,320.95 L295.80,321.24 L296.30,321.53 L296.80,321.82 L297.30,322.11 L297.80,322.40 L298.30,322.69 L298.80,322.98 L299.30,323.27 L299.80,323.56 L300.30,323.85 L300.80,324.14 L301.30,324.43 L301.80,324.73 L302.30,325.02 L302.80,325.31 L303.30,325.60 L303.80,325.89 L304.30,326.18 L304.80,326.47 L305.30,326.76 L305.80,327.05 L306.30,327.34 L306.80,327.62 L307.30,327.91 L307.80,328.20 L308.30,328.48 L308.80,328.77 L309.30,329.05 L309.80,329.33 L310.30,329.61 L310.80,329.90 L311.30,330.17 L311.80,330.45 L312.30,330.73 L312.80,331.00 L313.30,331.28 L313.80,331.55 L314.30,331.82 L314.80,332.09 L315.30,332.36 L315.80,332.62 L316.30,332.89 L316.80,333.15 L317.30,333.41 L317.80,333.67 L318.30,333.93 L318.80,334.18 L319.30,334.43 L319.80,334.68 L320.30,334.93 L320.80,335.18 L321.30,335.42 L321.80,335.66 L322.30,335.90 L322.80,336.13 L323.30,336.37 L323.80,336.60 L324.30,336.82 L324.80,337.05 L325.30,337.27 L325.80,337.49 L326.30,337.70 L326.80,337.91 L327.30,338.12 L327.80,338.32 L328.30,338.52 L328.80,338.71 L329.30,338.90 L329.80,339.08 L330.30,339.26 L330.80,339.43 L331.30,339.60 L331.80,339.76 L332.30,339.91 L332.80,340.06 L333.30,340.20 L333.80,340.34 L334.30,340.46 L334.80,340.58 L335.30,340.69 L335.80,340.80 L336.30,340.89 L336.80,340.98 L337.30,341.06 L337.80,341.13 L338.30,341.19 L338.80,341.25 L339.30,341.29 L339.80,341.32 L340.30,341.35 L340.80,341.36 L341.30,341.37 L341.80,341.36 L342.30,341.34 L342.80,341.32 L343.30,341.28 L343.80,341.23 L344.30,341.16 L344.80,341.09 L345.30,341.00 L345.80,340.91 L346.30,340.80 L346.80,340.67 L347.30,340.54 L347.80,340.39 L348.30,340.23 L348.80,340.06 L349.30,339.87 L349.80,339.67 L350.30,339.46 L350.80,339.24 L351.30,338.99 L351.80,338.74 L352.30,338.47 L352.80,338.19 L353.30,337.89 L353.80,337.58 L354.30,337.26 L354.80,336.91 L355.30,336.56 L355.80,336.19 L356.30,335.80 L356.80,335.40 L357.30,334.91 L357.80,334.42 L358.30,333.93 L358.80,333.43 L359.30,332.93 L359.80,332.42 L360.30,331.91 L360.80,331.40 L361.30,330.88 L361.80,330.35 L362.30,329.83 L362.80,329.30 L363.30,328.76 L363.80,328.23 L364.30,327.69 L364.80,327.14 L365.30,326.60 L365.80,326.05 L366.30,325.49 L366.80,324.93 L367.30,324.37 L367.80,323.81 L368.30,323.25 L368.80,322.68 L369.30,322.11 L369.80,321.53 L370.30,320.95 L370.80,320.37 L371.30,319.79 L371.80,319.21 L372.30,318.62 L372.80,318.03 L373.30,317.44 L373.80,316.85 L374.30,316.25 L374.80,315.65 L375.30,315.05 L375.80,314.45 L376.30,313.85 L376.80,313.24 L377.30,312.63 L377.80,312.02 L378.30,311.41 L378.80,310.80 L379.30,310.19 L379.80,309.57 L380.30,308.95 L380.80,308.34 L381.30,307.72 L381.80,307.10 L382.30,306.47 L382.80,305.85 L383.30,305.23 L383.80,304.60 L384.30,303.98 L384.80,303.35 L385.30,302.73 L385.80,302.10 L386.30,301.47 L386.80,300.84 L387.30,300.21 L387.80,299.58 L388.30,298.95 L388.80,298.32 L389.30,297.69 L389.80,297.06 L390.30,296.43 L390.80,295.80 L391.30,295.17 L391.80,294.54 L392.30,293.91 L392.80,293.28 L393.30,292.65 L393.80,292.02 L394.30,291.39 L394.80,290.77 L395.30,290.14 L395.80,289.51 L396.30,288.88 L396.80,288.26 L397.30,287.63 L397.80,287.01 L398.30,286.38 L398.80,285.76 L399.30,285.14 L399.80,284.51 L400.30,283.89 L400.80,283.27 L401.30,282.65 L401.80,282.03 L402.30,281.40 L402.80,280.78 L403.30,280.16 L403.80,279.54 L404.30,278.92 L404.80,278.30 L405.30,277.68 L405.80,277.06 L406.30,276.44 L406.80,275.82 L407.30,275.20 L407.80,274.58 L408.30,273.96 L408.80,273.33 L409.30,272.71 L409.80,272.09 L410.30,271.47 L410.80,270.85 L411.30,270.23 L411.80,269.61 L412.30,268.98 L412.80,268.36 L413.30,267.74 L413.80,267.12 L414.30,266.49 L414.80,265.87 L415.30,265.24 L415.80,264.62 L416.30,263.99 L416.80,263.37 L417.30,262.74 L417.80,262.11 L418.30,261.49 L418.80,260.86 L419.30,260.23 L419.80,259.60 L420.30,258.97 L420.80,258.34 L421.30,257.71 L421.80,257.07 L422.30,256.44 L422.80,255.80 L422.99,255.56" fill="none" stroke="#4a4a4a" stroke-width="1.0" stroke-linejoin="round"/>
<path d="M264.5,251.3 V380.5 H448.9" fill="none" stroke="#606060" stroke-width="1.1"/>
<line x1="261.4" y1="360.50" x2="264.5" y2="360.50" stroke="#606060" stroke-width="1"/>
<text transform="translate(262.30,363.75) scale(0.92,1)" class="tk" text-anchor="end">.8</text>
<line x1="261.4" y1="335.50" x2="264.5" y2="335.50" stroke="#606060" stroke-width="1"/>
<text transform="translate(260.55,338.75) scale(0.92,1)" class="tk" text-anchor="end">1</text>
<line x1="261.4" y1="314.50" x2="264.5" y2="314.50" stroke="#606060" stroke-width="1"/>
<text transform="translate(262.45,317.75) scale(0.92,1)" class="tk" text-anchor="end">1.2</text>
<line x1="261.4" y1="296.50" x2="264.5" y2="296.50" stroke="#606060" stroke-width="1"/>
<text transform="translate(262.45,299.75) scale(0.92,1)" class="tk" text-anchor="end">1.4</text>
<line x1="261.4" y1="281.50" x2="264.5" y2="281.50" stroke="#606060" stroke-width="1"/>
<text transform="translate(262.45,284.75) scale(0.92,1)" class="tk" text-anchor="end">1.6</text>
<line x1="261.4" y1="267.50" x2="264.5" y2="267.50" stroke="#606060" stroke-width="1"/>
<text transform="translate(262.45,270.75) scale(0.92,1)" class="tk" text-anchor="end">1.8</text>
<line x1="261.4" y1="255.50" x2="264.5" y2="255.50" stroke="#606060" stroke-width="1"/>
<text transform="translate(261.67,258.75) scale(0.92,1)" class="tk" text-anchor="end">2</text>
<line x1="268.00" y1="380.5" x2="268.00" y2="383.1" stroke="#606060" stroke-width="1"/>
<text transform="translate(268.40,389.60) scale(0.92,1)" class="tk" text-anchor="middle">−3</text>
<line x1="297.60" y1="380.5" x2="297.60" y2="383.1" stroke="#606060" stroke-width="1"/>
<text transform="translate(298.00,389.60) scale(0.92,1)" class="tk" text-anchor="middle">−2</text>
<line x1="327.20" y1="380.5" x2="327.20" y2="383.1" stroke="#606060" stroke-width="1"/>
<text transform="translate(327.60,389.60) scale(0.92,1)" class="tk" text-anchor="middle">−1</text>
<line x1="356.80" y1="380.5" x2="356.80" y2="383.1" stroke="#606060" stroke-width="1"/>
<text transform="translate(356.80,389.60) scale(0.92,1)" class="tk" text-anchor="middle">0</text>
<line x1="386.40" y1="380.5" x2="386.40" y2="383.1" stroke="#606060" stroke-width="1"/>
<text transform="translate(386.40,389.60) scale(0.92,1)" class="tk" text-anchor="middle">1</text>
<line x1="416.00" y1="380.5" x2="416.00" y2="383.1" stroke="#606060" stroke-width="1"/>
<text transform="translate(416.00,389.60) scale(0.92,1)" class="tk" text-anchor="middle">2</text>
<line x1="445.60" y1="380.5" x2="445.60" y2="383.1" stroke="#606060" stroke-width="1"/>
<text transform="translate(445.60,389.60) scale(0.92,1)" class="tk" text-anchor="middle">3</text>
<text x="304.63" y="399.7" class="at" textLength="109.9" lengthAdjust="spacing">Change of phosphate</text>
<text transform="translate(243.0,348.5) rotate(-90)" class="at" textLength="72.8" lengthAdjust="spacing">Hazard Ratios</text>
<line x1="501.0" y1="360.50" x2="684.0" y2="360.50" stroke="#ebf1f1" stroke-width="1"/>
<line x1="501.0" y1="314.50" x2="684.0" y2="314.50" stroke="#ebf1f1" stroke-width="1"/>
<line x1="501.0" y1="296.50" x2="684.0" y2="296.50" stroke="#ebf1f1" stroke-width="1"/>
<line x1="501.0" y1="281.50" x2="684.0" y2="281.50" stroke="#ebf1f1" stroke-width="1"/>
<line x1="501.0" y1="267.50" x2="684.0" y2="267.50" stroke="#ebf1f1" stroke-width="1"/>
<line x1="501.0" y1="255.50" x2="684.0" y2="255.50" stroke="#ebf1f1" stroke-width="1"/>
<line x1="499.0" y1="335.50" x2="684.0" y2="335.50" stroke="#585858" stroke-width="1" stroke-dasharray="3.95 1"/>
<line x1="591.50" y1="251.3" x2="591.50" y2="380.5" stroke="#585858" stroke-width="1" stroke-dasharray="3.95 1" stroke-dashoffset="3.55"/>
<path d="M518.10,301.70 L518.60,302.06 L519.10,302.42 L519.60,302.78 L520.10,303.13 L520.60,303.49 L521.10,303.85 L521.60,304.21 L522.10,304.57 L522.60,304.92 L523.10,305.28 L523.60,305.63 L524.10,305.99 L524.60,306.34 L525.10,306.69 L525.60,307.04 L526.10,307.40 L526.60,307.75 L527.10,308.10 L527.60,308.44 L528.10,308.79 L528.60,309.14 L529.10,309.48 L529.60,309.83 L530.10,310.17 L530.60,310.52 L531.10,310.86 L531.60,311.20 L532.10,311.54 L532.60,311.88 L533.10,312.21 L533.60,312.55 L534.10,312.88 L534.60,313.22 L535.10,313.55 L535.60,313.88 L536.10,314.21 L536.60,314.54 L537.10,314.86 L537.60,315.19 L538.10,315.51 L538.60,315.83 L539.10,316.15 L539.60,316.47 L540.10,316.79 L540.60,317.11 L541.10,317.42 L541.60,317.73 L542.10,318.04 L542.60,318.35 L543.10,318.66 L543.60,318.96 L544.10,319.27 L544.60,319.57 L545.10,319.87 L545.60,320.17 L546.10,320.46 L546.60,320.75 L547.10,321.05 L547.60,321.34 L548.10,321.62 L548.60,321.91 L549.10,322.19 L549.60,322.47 L550.10,322.75 L550.60,323.03 L551.10,323.30 L551.60,323.58 L552.10,323.85 L552.60,324.11 L553.10,324.38 L553.60,324.64 L554.10,324.90 L554.60,325.16 L555.10,325.41 L555.60,325.67 L556.10,325.92 L556.60,326.17 L557.10,326.41 L557.60,326.65 L558.10,326.89 L558.60,327.13 L559.10,327.37 L559.60,327.60 L560.10,327.83 L560.60,328.05 L561.10,328.28 L561.60,328.50 L562.10,328.71 L562.60,328.93 L563.10,329.14 L563.60,329.35 L564.10,329.55 L564.60,329.76 L565.10,329.96 L565.60,330.15 L566.10,330.35 L566.60,330.54 L567.10,330.72 L567.60,330.91 L568.10,331.09 L568.60,331.27 L569.10,331.44 L569.60,331.61 L570.10,331.78 L570.60,331.94 L571.10,332.10 L571.60,332.26 L572.10,332.42 L572.60,332.57 L573.10,332.71 L573.60,332.86 L574.10,333.00 L574.60,333.13 L575.10,333.26 L575.60,333.39 L576.10,333.52 L576.60,333.64 L577.10,333.76 L577.60,333.87 L578.10,333.98 L578.60,334.09 L579.10,334.19 L579.60,334.29 L580.10,334.38 L580.60,334.47 L581.10,334.56 L581.60,334.64 L582.10,334.72 L582.60,334.79 L583.10,334.86 L583.60,334.93 L584.10,334.99 L584.60,335.05 L585.10,335.10 L585.60,335.15 L586.10,335.19 L586.60,335.23 L587.10,335.27 L587.60,335.30 L588.10,335.33 L588.60,335.35 L589.10,335.37 L589.60,335.38 L590.10,335.39 L590.60,335.40 L591.10,335.40 L591.50,335.40 L592.00,334.83 L592.50,334.37 L593.00,333.90 L593.50,333.43 L594.00,332.96 L594.50,332.49 L595.00,332.02 L595.50,331.55 L596.00,331.09 L596.50,330.62 L597.00,330.15 L597.50,329.68 L598.00,329.21 L598.50,328.74 L599.00,328.27 L599.50,327.80 L600.00,327.34 L600.50,326.87 L601.00,326.40 L601.50,325.93 L602.00,325.46 L602.50,324.99 L603.00,324.52 L603.50,324.05 L604.00,323.58 L604.50,323.11 L605.00,322.64 L605.50,322.17 L606.00,321.70 L606.50,321.23 L607.00,320.76 L607.50,320.29 L608.00,319.82 L608.50,319.35 L609.00,318.88 L609.50,318.41 L610.00,317.94 L610.50,317.47 L611.00,317.00 L611.50,316.53 L612.00,316.06 L612.50,315.59 L613.00,315.12 L613.50,314.65 L614.00,314.18 L614.50,313.71 L615.00,313.24 L615.50,312.77 L616.00,312.30 L616.50,311.83 L617.00,311.35 L617.50,310.88 L618.00,310.41 L618.50,309.94 L619.00,309.47 L619.50,309.00 L620.00,308.53 L620.50,308.05 L621.00,307.58 L621.50,307.11 L622.00,306.64 L622.50,306.17 L623.00,305.70 L623.50,305.22 L624.00,304.75 L624.50,304.28 L625.00,303.81 L625.50,303.34 L626.00,302.86 L626.50,302.39 L627.00,301.92 L627.50,301.45 L628.00,300.97 L628.50,300.50 L629.00,300.03 L629.50,299.56 L630.00,299.08 L630.50,298.61 L631.00,298.14 L631.50,297.66 L632.00,297.19 L632.50,296.72 L633.00,296.24 L633.50,295.77 L634.00,295.30 L634.50,294.82 L635.00,294.35 L635.50,293.88 L636.00,293.40 L636.50,292.93 L637.00,292.46 L637.50,291.98 L638.00,291.51 L638.50,291.03 L639.00,290.56 L639.50,290.09 L640.00,289.61 L640.50,289.14 L641.00,288.66 L641.50,288.19 L642.00,287.71 L642.50,287.24 L643.00,286.76 L643.50,286.29 L644.00,285.81 L644.50,285.34 L645.00,284.86 L645.50,284.39 L646.00,283.91 L646.50,283.44 L647.00,282.96 L647.50,282.49 L648.00,282.01 L648.50,281.53 L649.00,281.06 L649.50,280.58 L650.00,280.11 L650.50,279.63 L651.00,279.15 L651.50,278.68 L652.00,278.20 L652.50,277.73 L653.00,277.25 L653.50,276.77 L654.00,276.30 L654.50,275.82 L655.00,275.34 L655.50,274.87 L656.00,274.39 L656.50,273.91 L657.00,273.43 L657.50,272.96 L658.00,272.48 L658.50,272.00 L659.00,271.52 L659.50,271.05 L660.00,270.57 L660.50,270.09 L660.70,269.90 L660.70,360.50 L660.50,360.42 L660.00,360.23 L659.50,360.03 L659.00,359.84 L658.50,359.65 L658.00,359.45 L657.50,359.26 L657.00,359.07 L656.50,358.87 L656.00,358.68 L655.50,358.49 L655.00,358.30 L654.50,358.11 L654.00,357.92 L653.50,357.72 L653.00,357.53 L652.50,357.34 L652.00,357.15 L651.50,356.96 L651.00,356.77 L650.50,356.59 L650.00,356.40 L649.50,356.21 L649.00,356.02 L648.50,355.83 L648.00,355.64 L647.50,355.46 L647.00,355.27 L646.50,355.08 L646.00,354.89 L645.50,354.71 L645.00,354.52 L644.50,354.33 L644.00,354.15 L643.50,353.96 L643.00,353.78 L642.50,353.59 L642.00,353.41 L641.50,353.22 L641.00,353.04 L640.50,352.85 L640.00,352.67 L639.50,352.49 L639.00,352.30 L638.50,352.12 L638.00,351.94 L637.50,351.75 L637.00,351.57 L636.50,351.39 L636.00,351.21 L635.50,351.02 L635.00,350.84 L634.50,350.66 L634.00,350.48 L633.50,350.30 L633.00,350.12 L632.50,349.93 L632.00,349.75 L631.50,349.57 L631.00,349.39 L630.50,349.21 L630.00,349.03 L629.50,348.85 L629.00,348.67 L628.50,348.49 L628.00,348.32 L627.50,348.14 L627.00,347.96 L626.50,347.78 L626.00,347.60 L625.50,347.42 L625.00,347.24 L624.50,347.07 L624.00,346.89 L623.50,346.71 L623.00,346.53 L622.50,346.36 L622.00,346.18 L621.50,346.00 L621.00,345.82 L620.50,345.65 L620.00,345.47 L619.50,345.30 L619.00,345.12 L618.50,344.94 L618.00,344.77 L617.50,344.59 L617.00,344.42 L616.50,344.24 L616.00,344.06 L615.50,343.89 L615.00,343.71 L614.50,343.54 L614.00,343.36 L613.50,343.19 L613.00,343.01 L612.50,342.84 L612.00,342.67 L611.50,342.49 L611.00,342.32 L610.50,342.14 L610.00,341.97 L609.50,341.80 L609.00,341.62 L608.50,341.45 L608.00,341.28 L607.50,341.10 L607.00,340.93 L606.50,340.76 L606.00,340.58 L605.50,340.41 L605.00,340.24 L604.50,340.06 L604.00,339.89 L603.50,339.72 L603.00,339.55 L602.50,339.37 L602.00,339.20 L601.50,339.03 L601.00,338.86 L600.50,338.69 L600.00,338.51 L599.50,338.34 L599.00,338.17 L598.50,338.00 L598.00,337.83 L597.50,337.65 L597.00,337.48 L596.50,337.31 L596.00,337.14 L595.50,336.97 L595.00,336.80 L594.50,336.63 L594.00,336.46 L593.50,336.28 L593.00,336.11 L592.50,335.94 L592.00,335.77 L591.50,335.60 L591.10,335.80 L590.60,336.04 L590.10,336.28 L589.60,336.52 L589.10,336.76 L588.60,337.00 L588.10,337.24 L587.60,337.48 L587.10,337.71 L586.60,337.95 L586.10,338.19 L585.60,338.42 L585.10,338.66 L584.60,338.89 L584.10,339.13 L583.60,339.36 L583.10,339.60 L582.60,339.83 L582.10,340.07 L581.60,340.30 L581.10,340.53 L580.60,340.77 L580.10,341.00 L579.60,341.23 L579.10,341.46 L578.60,341.70 L578.10,341.93 L577.60,342.16 L577.10,342.39 L576.60,342.63 L576.10,342.86 L575.60,343.09 L575.10,343.32 L574.60,343.56 L574.10,343.79 L573.60,344.02 L573.10,344.26 L572.60,344.49 L572.10,344.73 L571.60,344.96 L571.10,345.19 L570.60,345.43 L570.10,345.66 L569.60,345.90 L569.10,346.14 L568.60,346.37 L568.10,346.61 L567.60,346.85 L567.10,347.09 L566.60,347.32 L566.10,347.56 L565.60,347.80 L565.10,348.04 L564.60,348.29 L564.10,348.53 L563.60,348.77 L563.10,349.01 L562.60,349.26 L562.10,349.50 L561.60,349.75 L561.10,350.00 L560.60,350.24 L560.10,350.49 L559.60,350.74 L559.10,350.99 L558.60,351.24 L558.10,351.49 L557.60,351.75 L557.10,352.00 L556.60,352.26 L556.10,352.51 L555.60,352.77 L555.10,353.03 L554.60,353.29 L554.10,353.55 L553.60,353.82 L553.10,354.08 L552.60,354.34 L552.10,354.61 L551.60,354.88 L551.10,355.15 L550.60,355.42 L550.10,355.69 L549.60,355.96 L549.10,356.23 L548.60,356.51 L548.10,356.78 L547.60,357.06 L547.10,357.34 L546.60,357.62 L546.10,357.90 L545.60,358.18 L545.10,358.46 L544.60,358.75 L544.10,359.03 L543.60,359.32 L543.10,359.61 L542.60,359.90 L542.10,360.19 L541.60,360.48 L541.10,360.78 L540.60,361.07 L540.10,361.37 L539.60,361.67 L539.10,361.97 L538.60,362.27 L538.10,362.57 L537.60,362.87 L537.10,363.18 L536.60,363.48 L536.10,363.79 L535.60,364.10 L535.10,364.41 L534.60,364.72 L534.10,365.03 L533.60,365.35 L533.10,365.66 L532.60,365.98 L532.10,366.30 L531.60,366.62 L531.10,366.94 L530.60,367.26 L530.10,367.58 L529.60,367.91 L529.10,368.24 L528.60,368.57 L528.10,368.89 L527.60,369.23 L527.10,369.56 L526.60,369.89 L526.10,370.23 L525.60,370.57 L525.10,370.90 L524.60,371.24 L524.10,371.59 L523.60,371.93 L523.10,372.27 L522.60,372.62 L522.10,372.97 L521.60,373.32 L521.10,373.67 L520.60,374.02 L520.10,374.37 L519.60,374.73 L519.10,375.09 L518.60,375.44 L518.10,375.80 Z" fill="#a4a4a4" fill-opacity="0.65"/>
<path d="M518.10,339.50 L518.60,339.48 L519.10,339.47 L519.60,339.45 L520.10,339.44 L520.60,339.43 L521.10,339.41 L521.60,339.40 L522.10,339.39 L522.60,339.38 L523.10,339.37 L523.60,339.36 L524.10,339.36 L524.60,339.35 L525.10,339.34 L525.60,339.34 L526.10,339.33 L526.60,339.33 L527.10,339.32 L527.60,339.32 L528.10,339.31 L528.60,339.31 L529.10,339.31 L529.60,339.31 L530.10,339.31 L530.60,339.31 L531.10,339.31 L531.60,339.31 L532.10,339.31 L532.60,339.31 L533.10,339.31 L533.60,339.31 L534.10,339.31 L534.60,339.31 L535.10,339.31 L535.60,339.31 L536.10,339.32 L536.60,339.32 L537.10,339.32 L537.60,339.32 L538.10,339.33 L538.60,339.33 L539.10,339.33 L539.60,339.33 L540.10,339.34 L540.60,339.34 L541.10,339.34 L541.60,339.34 L542.10,339.35 L542.60,339.35 L543.10,339.35 L543.60,339.35 L544.10,339.35 L544.60,339.36 L545.10,339.36 L545.60,339.36 L546.10,339.36 L546.60,339.36 L547.10,339.36 L547.60,339.36 L548.10,339.36 L548.60,339.36 L549.10,339.35 L549.60,339.35 L550.10,339.35 L550.60,339.35 L551.10,339.34 L551.60,339.34 L552.10,339.34 L552.60,339.33 L553.10,339.33 L553.60,339.32 L554.10,339.31 L554.60,339.30 L555.10,339.30 L555.60,339.29 L556.10,339.28 L556.60,339.27 L557.10,339.26 L557.60,339.24 L558.10,339.23 L558.60,339.22 L559.10,339.20 L559.60,339.19 L560.10,339.17 L560.60,339.16 L561.10,339.14 L561.60,339.12 L562.10,339.10 L562.60,339.08 L563.10,339.06 L563.60,339.03 L564.10,339.01 L564.60,338.98 L565.10,338.96 L565.60,338.93 L566.10,338.90 L566.60,338.87 L567.10,338.84 L567.60,338.81 L568.10,338.77 L568.60,338.74 L569.10,338.70 L569.60,338.67 L570.10,338.63 L570.60,338.59 L571.10,338.54 L571.60,338.50 L572.10,338.46 L572.60,338.41 L573.10,338.36 L573.60,338.32 L574.10,338.27 L574.60,338.21 L575.10,338.16 L575.60,338.11 L576.10,338.05 L576.60,337.99 L577.10,337.93 L577.60,337.87 L578.10,337.81 L578.60,337.74 L579.10,337.67 L579.60,337.61 L580.10,337.54 L580.60,337.46 L581.10,337.39 L581.60,337.31 L582.10,337.24 L582.60,337.16 L583.10,337.08 L583.60,336.99 L584.10,336.91 L584.60,336.82 L585.10,336.73 L585.60,336.64 L586.10,336.55 L586.60,336.45 L587.10,336.35 L587.60,336.25 L588.10,336.15 L588.60,336.05 L589.10,335.94 L589.60,335.83 L590.10,335.72 L590.60,335.61 L591.10,335.49 L591.50,335.40 L592.00,335.22 L592.50,335.05 L593.00,334.88 L593.50,334.70 L594.00,334.53 L594.50,334.36 L595.00,334.19 L595.50,334.03 L596.00,333.86 L596.50,333.69 L597.00,333.53 L597.50,333.36 L598.00,333.20 L598.50,333.03 L599.00,332.87 L599.50,332.71 L600.00,332.55 L600.50,332.39 L601.00,332.23 L601.50,332.07 L602.00,331.91 L602.50,331.76 L603.00,331.60 L603.50,331.45 L604.00,331.29 L604.50,331.14 L605.00,330.98 L605.50,330.83 L606.00,330.68 L606.50,330.53 L607.00,330.38 L607.50,330.23 L608.00,330.08 L608.50,329.93 L609.00,329.78 L609.50,329.63 L610.00,329.49 L610.50,329.34 L611.00,329.19 L611.50,329.05 L612.00,328.90 L612.50,328.76 L613.00,328.61 L613.50,328.47 L614.00,328.33 L614.50,328.18 L615.00,328.04 L615.50,327.90 L616.00,327.76 L616.50,327.62 L617.00,327.48 L617.50,327.34 L618.00,327.20 L618.50,327.06 L619.00,326.92 L619.50,326.78 L620.00,326.64 L620.50,326.50 L621.00,326.37 L621.50,326.23 L622.00,326.09 L622.50,325.95 L623.00,325.82 L623.50,325.68 L624.00,325.54 L624.50,325.41 L625.00,325.27 L625.50,325.14 L626.00,325.00 L626.50,324.87 L627.00,324.73 L627.50,324.59 L628.00,324.46 L628.50,324.32 L629.00,324.19 L629.50,324.06 L630.00,323.92 L630.50,323.79 L631.00,323.65 L631.50,323.52 L632.00,323.38 L632.50,323.25 L633.00,323.11 L633.50,322.98 L634.00,322.84 L634.50,322.71 L635.00,322.58 L635.50,322.44 L636.00,322.31 L636.50,322.17 L637.00,322.04 L637.50,321.90 L638.00,321.77 L638.50,321.63 L639.00,321.50 L639.50,321.36 L640.00,321.22 L640.50,321.09 L641.00,320.95 L641.50,320.82 L642.00,320.68 L642.50,320.54 L643.00,320.41 L643.50,320.27 L644.00,320.13 L644.50,319.99 L645.00,319.86 L645.50,319.72 L646.00,319.58 L646.50,319.44 L647.00,319.30 L647.50,319.16 L648.00,319.02 L648.50,318.88 L649.00,318.74 L649.50,318.60 L650.00,318.46 L650.50,318.32 L651.00,318.17 L651.50,318.03 L652.00,317.89 L652.50,317.74 L653.00,317.60 L653.50,317.45 L654.00,317.31 L654.50,317.16 L655.00,317.02 L655.50,316.87 L656.00,316.72 L656.50,316.57 L657.00,316.43 L657.50,316.28 L658.00,316.13 L658.50,315.98 L659.00,315.83 L659.50,315.67 L660.00,315.52 L660.40,315.40" fill="none" stroke="#4a4a4a" stroke-width="1.0" stroke-linejoin="round"/>
<path d="M499.5,251.3 V380.5 H684.0" fill="none" stroke="#606060" stroke-width="1.1"/>
<line x1="496.4" y1="360.50" x2="499.5" y2="360.50" stroke="#606060" stroke-width="1"/>
<text transform="translate(497.30,363.75) scale(0.92,1)" class="tk" text-anchor="end">.8</text>
<line x1="496.4" y1="335.50" x2="499.5" y2="335.50" stroke="#606060" stroke-width="1"/>
<text transform="translate(495.55,338.75) scale(0.92,1)" class="tk" text-anchor="end">1</text>
<line x1="496.4" y1="314.50" x2="499.5" y2="314.50" stroke="#606060" stroke-width="1"/>
<text transform="translate(497.45,317.75) scale(0.92,1)" class="tk" text-anchor="end">1.2</text>
<line x1="496.4" y1="296.50" x2="499.5" y2="296.50" stroke="#606060" stroke-width="1"/>
<text transform="translate(497.45,299.75) scale(0.92,1)" class="tk" text-anchor="end">1.4</text>
<line x1="496.4" y1="281.50" x2="499.5" y2="281.50" stroke="#606060" stroke-width="1"/>
<text transform="translate(497.45,284.75) scale(0.92,1)" class="tk" text-anchor="end">1.6</text>
<line x1="496.4" y1="267.50" x2="499.5" y2="267.50" stroke="#606060" stroke-width="1"/>
<text transform="translate(497.45,270.75) scale(0.92,1)" class="tk" text-anchor="end">1.8</text>
<line x1="496.4" y1="255.50" x2="499.5" y2="255.50" stroke="#606060" stroke-width="1"/>
<text transform="translate(496.67,258.75) scale(0.92,1)" class="tk" text-anchor="end">2</text>
<line x1="503.15" y1="380.5" x2="503.15" y2="383.1" stroke="#606060" stroke-width="1"/>
<text transform="translate(503.55,389.60) scale(0.92,1)" class="tk" text-anchor="middle">−3</text>
<line x1="532.60" y1="380.5" x2="532.60" y2="383.1" stroke="#606060" stroke-width="1"/>
<text transform="translate(533.00,389.60) scale(0.92,1)" class="tk" text-anchor="middle">−2</text>
<line x1="562.05" y1="380.5" x2="562.05" y2="383.1" stroke="#606060" stroke-width="1"/>
<text transform="translate(562.45,389.60) scale(0.92,1)" class="tk" text-anchor="middle">−1</text>
<line x1="591.50" y1="380.5" x2="591.50" y2="383.1" stroke="#606060" stroke-width="1"/>
<text transform="translate(591.50,389.60) scale(0.92,1)" class="tk" text-anchor="middle">0</text>
<line x1="620.95" y1="380.5" x2="620.95" y2="383.1" stroke="#606060" stroke-width="1"/>
<text transform="translate(620.95,389.60) scale(0.92,1)" class="tk" text-anchor="middle">1</text>
<line x1="650.40" y1="380.5" x2="650.40" y2="383.1" stroke="#606060" stroke-width="1"/>
<text transform="translate(650.40,389.60) scale(0.92,1)" class="tk" text-anchor="middle">2</text>
<line x1="679.85" y1="380.5" x2="679.85" y2="383.1" stroke="#606060" stroke-width="1"/>
<text transform="translate(679.85,389.60) scale(0.92,1)" class="tk" text-anchor="middle">3</text>
<text x="539.63" y="399.7" class="at" textLength="109.9" lengthAdjust="spacing">Change of phosphate</text>
<text transform="translate(478.0,348.5) rotate(-90)" class="at" textLength="72.8" lengthAdjust="spacing">Hazard Ratios</text>
<line x1="32.0" y1="569.42" x2="214.7" y2="569.42" stroke="#ebf1f1" stroke-width="1"/>
<line x1="32.0" y1="522.78" x2="214.7" y2="522.78" stroke="#ebf1f1" stroke-width="1"/>
<line x1="32.0" y1="505.04" x2="214.7" y2="505.04" stroke="#ebf1f1" stroke-width="1"/>
<line x1="32.0" y1="489.68" x2="214.7" y2="489.68" stroke="#ebf1f1" stroke-width="1"/>
<line x1="32.0" y1="476.13" x2="214.7" y2="476.13" stroke="#ebf1f1" stroke-width="1"/>
<line x1="32.0" y1="464.01" x2="214.7" y2="464.01" stroke="#ebf1f1" stroke-width="1"/>
<line x1="30.0" y1="543.75" x2="214.7" y2="543.75" stroke="#585858" stroke-width="1" stroke-dasharray="3.95 1"/>
<line x1="122.50" y1="460.0" x2="122.50" y2="588.5" stroke="#585858" stroke-width="1" stroke-dasharray="3.95 1" stroke-dashoffset="3.55"/>
<path d="M33.90,556.10 L34.40,556.30 L34.90,556.49 L35.40,556.68 L35.90,556.86 L36.40,557.04 L36.90,557.21 L37.40,557.38 L37.90,557.54 L38.40,557.70 L38.90,557.84 L39.40,557.99 L39.90,558.13 L40.40,558.26 L40.90,558.39 L41.40,558.51 L41.90,558.62 L42.40,558.74 L42.90,558.84 L43.40,558.94 L43.90,559.04 L44.40,559.13 L44.90,559.22 L45.40,559.30 L45.90,559.37 L46.40,559.44 L46.90,559.51 L47.40,559.57 L47.90,559.63 L48.40,559.68 L48.90,559.73 L49.40,559.77 L49.90,559.81 L50.40,559.84 L50.90,559.87 L51.40,559.89 L51.90,559.91 L52.40,559.93 L52.90,559.94 L53.40,559.95 L53.90,559.95 L54.40,559.95 L54.90,559.95 L55.40,559.94 L55.90,559.92 L56.40,559.91 L56.90,559.89 L57.40,559.86 L57.90,559.83 L58.40,559.80 L58.90,559.76 L59.40,559.72 L59.90,559.68 L60.40,559.63 L60.90,559.58 L61.40,559.53 L61.90,559.47 L62.40,559.41 L62.90,559.35 L63.40,559.28 L63.90,559.21 L64.40,559.13 L64.90,559.06 L65.40,558.98 L65.90,558.89 L66.40,558.81 L66.90,558.72 L67.40,558.63 L67.90,558.53 L68.40,558.43 L68.90,558.33 L69.40,558.23 L69.90,558.12 L70.40,558.01 L70.90,557.90 L71.40,557.79 L71.90,557.67 L72.40,557.55 L72.90,557.43 L73.40,557.31 L73.90,557.18 L74.40,557.05 L74.90,556.92 L75.40,556.79 L75.90,556.66 L76.40,556.52 L76.90,556.38 L77.40,556.24 L77.90,556.10 L78.40,555.95 L78.90,555.81 L79.40,555.66 L79.90,555.51 L80.40,555.36 L80.90,555.20 L81.40,555.05 L81.90,554.89 L82.40,554.73 L82.90,554.57 L83.40,554.41 L83.90,554.25 L84.40,554.09 L84.90,553.92 L85.40,553.76 L85.90,553.59 L86.40,553.42 L86.90,553.26 L87.40,553.09 L87.90,552.92 L88.40,552.75 L88.90,552.58 L89.40,552.40 L89.90,552.23 L90.40,552.06 L90.90,551.89 L91.40,551.72 L91.90,551.54 L92.40,551.37 L92.90,551.20 L93.40,551.03 L93.90,550.85 L94.40,550.68 L94.90,550.51 L95.40,550.34 L95.90,550.17 L96.40,550.00 L96.90,549.83 L97.40,549.66 L97.90,549.49 L98.40,549.32 L98.90,549.16 L99.40,548.99 L99.90,548.83 L100.40,548.67 L100.90,548.50 L101.40,548.34 L101.90,548.18 L102.40,548.03 L102.90,547.87 L103.40,547.72 L103.90,547.56 L104.40,547.41 L104.90,547.27 L105.40,547.12 L105.90,546.97 L106.40,546.83 L106.90,546.69 L107.40,546.55 L107.90,546.41 L108.40,546.28 L108.90,546.15 L109.40,546.02 L109.90,545.89 L110.40,545.77 L110.90,545.65 L111.40,545.53 L111.90,545.42 L112.40,545.31 L112.90,545.20 L113.40,545.09 L113.90,544.99 L114.40,544.89 L114.90,544.79 L115.40,544.70 L115.90,544.61 L116.40,544.52 L116.90,544.44 L117.40,544.36 L117.90,544.29 L118.40,544.22 L118.90,544.15 L119.40,544.09 L119.90,544.03 L120.40,543.98 L120.90,543.93 L121.40,543.88 L121.90,543.84 L122.40,543.80 L122.50,543.80 L123.00,543.48 L123.50,543.17 L124.00,542.85 L124.50,542.53 L125.00,542.22 L125.50,541.90 L126.00,541.58 L126.50,541.26 L127.00,540.95 L127.50,540.63 L128.00,540.31 L128.50,539.99 L129.00,539.67 L129.50,539.36 L130.00,539.04 L130.50,538.72 L131.00,538.40 L131.50,538.09 L132.00,537.77 L132.50,537.45 L133.00,537.13 L133.50,536.81 L134.00,536.50 L134.50,536.18 L135.00,535.86 L135.50,535.54 L136.00,535.22 L136.50,534.91 L137.00,534.59 L137.50,534.27 L138.00,533.95 L138.50,533.64 L139.00,533.32 L139.50,533.00 L140.00,532.68 L140.50,532.37 L141.00,532.05 L141.50,531.73 L142.00,531.41 L142.50,531.10 L143.00,530.78 L143.50,530.46 L144.00,530.15 L144.50,529.83 L145.00,529.52 L145.50,529.20 L146.00,528.88 L146.50,528.57 L147.00,528.25 L147.50,527.94 L148.00,527.62 L148.50,527.31 L149.00,526.99 L149.50,526.68 L150.00,526.36 L150.50,526.05 L151.00,525.73 L151.50,525.42 L152.00,525.10 L152.50,524.79 L153.00,524.48 L153.50,524.16 L154.00,523.85 L154.50,523.54 L155.00,523.23 L155.50,522.91 L156.00,522.60 L156.50,522.29 L157.00,521.98 L157.50,521.67 L158.00,521.36 L158.50,521.05 L159.00,520.74 L159.50,520.43 L160.00,520.12 L160.50,519.81 L161.00,519.50 L161.50,519.19 L162.00,518.88 L162.50,518.57 L163.00,518.27 L163.50,517.96 L164.00,517.65 L164.50,517.35 L165.00,517.04 L165.50,516.73 L166.00,516.43 L166.50,516.12 L167.00,515.82 L167.50,515.51 L168.00,515.21 L168.50,514.91 L169.00,514.60 L169.50,514.30 L170.00,514.00 L170.50,513.70 L171.00,513.40 L171.50,513.09 L172.00,512.79 L172.50,512.49 L173.00,512.19 L173.50,511.90 L174.00,511.60 L174.50,511.30 L175.00,511.00 L175.50,510.70 L176.00,510.41 L176.50,510.11 L177.00,509.81 L177.50,509.52 L178.00,509.22 L178.50,508.93 L179.00,508.64 L179.50,508.34 L180.00,508.05 L180.50,507.76 L180.60,507.70 L180.70,567.90 L180.50,567.80 L180.00,567.55 L179.50,567.31 L179.00,567.06 L178.50,566.82 L178.00,566.57 L177.50,566.33 L177.00,566.09 L176.50,565.85 L176.00,565.62 L175.50,565.38 L175.00,565.14 L174.50,564.91 L174.00,564.68 L173.50,564.45 L173.00,564.22 L172.50,563.99 L172.00,563.76 L171.50,563.53 L171.00,563.31 L170.50,563.08 L170.00,562.86 L169.50,562.64 L169.00,562.41 L168.50,562.19 L168.00,561.97 L167.50,561.75 L167.00,561.54 L166.50,561.32 L166.00,561.10 L165.50,560.89 L165.00,560.68 L164.50,560.46 L164.00,560.25 L163.50,560.04 L163.00,559.83 L162.50,559.62 L162.00,559.41 L161.50,559.20 L161.00,558.99 L160.50,558.79 L160.00,558.58 L159.50,558.37 L159.00,558.17 L158.50,557.97 L158.00,557.76 L157.50,557.56 L157.00,557.36 L156.50,557.16 L156.00,556.95 L155.50,556.75 L155.00,556.55 L154.50,556.35 L154.00,556.16 L153.50,555.96 L153.00,555.76 L152.50,555.56 L152.00,555.36 L151.50,555.17 L151.00,554.97 L150.50,554.78 L150.00,554.58 L149.50,554.39 L149.00,554.19 L148.50,554.00 L148.00,553.80 L147.50,553.61 L147.00,553.41 L146.50,553.22 L146.00,553.03 L145.50,552.84 L145.00,552.64 L144.50,552.45 L144.00,552.26 L143.50,552.07 L143.00,551.87 L142.50,551.68 L142.00,551.49 L141.50,551.30 L141.00,551.11 L140.50,550.91 L140.00,550.72 L139.50,550.53 L139.00,550.34 L138.50,550.15 L138.00,549.96 L137.50,549.76 L137.00,549.57 L136.50,549.38 L136.00,549.19 L135.50,549.00 L135.00,548.80 L134.50,548.61 L134.00,548.42 L133.50,548.23 L133.00,548.03 L132.50,547.84 L132.00,547.65 L131.50,547.45 L131.00,547.26 L130.50,547.06 L130.00,546.87 L129.50,546.67 L129.00,546.48 L128.50,546.28 L128.00,546.09 L127.50,545.89 L127.00,545.69 L126.50,545.50 L126.00,545.30 L125.50,545.10 L125.00,544.90 L124.50,544.70 L124.00,544.50 L123.50,544.30 L123.00,544.10 L122.50,544.00 L122.20,544.14 L121.70,544.38 L121.20,544.63 L120.70,544.89 L120.20,545.16 L119.70,545.43 L119.20,545.72 L118.70,546.01 L118.20,546.30 L117.70,546.61 L117.20,546.92 L116.70,547.23 L116.20,547.56 L115.70,547.89 L115.20,548.22 L114.70,548.57 L114.20,548.92 L113.70,549.27 L113.20,549.63 L112.70,550.00 L112.20,550.37 L111.70,550.74 L111.20,551.12 L110.70,551.51 L110.20,551.90 L109.70,552.29 L109.20,552.69 L108.70,553.10 L108.20,553.50 L107.70,553.91 L107.20,554.33 L106.70,554.75 L106.20,555.17 L105.70,555.59 L105.20,556.02 L104.70,556.45 L104.20,556.88 L103.70,557.32 L103.20,557.76 L102.70,558.20 L102.20,558.64 L101.70,559.08 L101.20,559.53 L100.70,559.97 L100.20,560.42 L99.70,560.87 L99.20,561.32 L98.70,561.77 L98.20,562.22 L97.70,562.67 L97.20,563.12 L96.70,563.58 L96.20,564.03 L95.70,564.48 L95.20,564.93 L94.70,565.38 L94.20,565.83 L93.70,566.28 L93.20,566.73 L92.70,567.18 L92.20,567.63 L91.70,568.07 L91.20,568.51 L90.70,568.95 L90.20,569.39 L89.70,569.83 L89.20,570.26 L88.70,570.70 L88.20,571.13 L87.70,571.55 L87.20,571.98 L86.70,572.40 L86.20,572.81 L85.70,573.23 L85.20,573.64 L84.70,574.04 L84.20,574.44 L83.70,574.84 L83.20,575.23 L82.70,575.62 L82.20,576.01 L81.70,576.39 L81.20,576.76 L80.70,577.13 L80.20,577.49 L79.70,577.85 L79.20,578.21 L78.70,578.55 L78.20,578.89 L77.70,579.23 L77.20,579.56 L76.70,579.88 L76.20,580.19 L75.70,580.50 L75.20,580.80 L74.70,581.10 L74.20,581.39 L73.70,581.66 L73.20,581.94 L72.70,582.20 L72.20,582.46 L71.70,582.70 L71.20,582.94 L70.70,583.18 L70.20,583.40 L69.70,583.61 L69.20,583.82 L68.70,584.01 L68.20,584.20 L67.70,584.38 L67.20,584.48 L66.70,584.48 L33.90,584.48 Z" fill="#a4a4a4" fill-opacity="0.65"/>
<path d="M33.90,570.20 L34.40,570.31 L34.90,570.43 L35.40,570.54 L35.90,570.65 L36.40,570.75 L36.90,570.86 L37.40,570.96 L37.90,571.06 L38.40,571.16 L38.90,571.25 L39.40,571.34 L39.90,571.43 L40.40,571.52 L40.90,571.61 L41.40,571.69 L41.90,571.77 L42.40,571.85 L42.90,571.92 L43.40,571.99 L43.90,572.06 L44.40,572.13 L44.90,572.19 L45.40,572.25 L45.90,572.31 L46.40,572.37 L46.90,572.42 L47.40,572.47 L47.90,572.51 L48.40,572.55 L48.90,572.59 L49.40,572.63 L49.90,572.66 L50.40,572.69 L50.90,572.71 L51.40,572.74 L51.90,572.76 L52.40,572.77 L52.90,572.78 L53.40,572.79 L53.90,572.79 L54.40,572.79 L54.90,572.79 L55.40,572.78 L55.90,572.77 L56.40,572.76 L56.90,572.74 L57.40,572.72 L57.90,572.69 L58.40,572.66 L58.90,572.63 L59.40,572.59 L59.90,572.54 L60.40,572.50 L60.90,572.44 L61.40,572.39 L61.90,572.33 L62.40,572.26 L62.90,572.19 L63.40,572.12 L63.90,572.04 L64.40,571.96 L64.90,571.87 L65.40,571.78 L65.90,571.68 L66.40,571.58 L66.90,571.48 L67.40,571.36 L67.90,571.25 L68.40,571.13 L68.90,571.00 L69.40,570.87 L69.90,570.73 L70.40,570.59 L70.90,570.45 L71.40,570.30 L71.90,570.14 L72.40,569.98 L72.90,569.81 L73.40,569.64 L73.90,569.46 L74.40,569.28 L74.90,569.09 L75.40,568.89 L75.90,568.69 L76.40,568.49 L76.90,568.28 L77.40,568.06 L77.90,567.84 L78.40,567.61 L78.90,567.37 L79.40,567.13 L79.90,566.89 L80.40,566.63 L80.90,566.38 L81.40,566.11 L81.90,565.84 L82.40,565.56 L82.90,565.28 L83.40,564.99 L83.90,564.70 L84.40,564.40 L84.90,564.10 L85.40,563.79 L85.90,563.48 L86.40,563.17 L86.90,562.85 L87.40,562.53 L87.90,562.20 L88.40,561.87 L88.90,561.54 L89.40,561.20 L89.90,560.87 L90.40,560.53 L90.90,560.19 L91.40,559.84 L91.90,559.50 L92.40,559.16 L92.90,558.81 L93.40,558.46 L93.90,558.12 L94.40,557.77 L94.90,557.42 L95.40,557.08 L95.90,556.73 L96.40,556.38 L96.90,556.04 L97.40,555.70 L97.90,555.36 L98.40,555.02 L98.90,554.68 L99.40,554.34 L99.90,554.01 L100.40,553.68 L100.90,553.35 L101.40,553.03 L101.90,552.71 L102.40,552.39 L102.90,552.08 L103.40,551.77 L103.90,551.46 L104.40,551.16 L104.90,550.86 L105.40,550.57 L105.90,550.28 L106.40,550.00 L106.90,549.72 L107.40,549.44 L107.90,549.17 L108.40,548.91 L108.90,548.65 L109.40,548.39 L109.90,548.14 L110.40,547.89 L110.90,547.65 L111.40,547.42 L111.90,547.19 L112.40,546.97 L112.90,546.75 L113.40,546.54 L113.90,546.33 L114.40,546.13 L114.90,545.94 L115.40,545.75 L115.90,545.57 L116.40,545.39 L116.90,545.22 L117.40,545.06 L117.90,544.90 L118.40,544.75 L118.90,544.61 L119.40,544.48 L119.90,544.35 L120.40,544.23 L120.90,544.11 L121.40,544.01 L121.90,543.91 L122.40,543.82 L122.50,543.80 L123.00,543.73 L123.50,543.65 L124.00,543.58 L124.50,543.51 L125.00,543.44 L125.50,543.37 L126.00,543.30 L126.50,543.23 L127.00,543.16 L127.50,543.09 L128.00,543.03 L128.50,542.96 L129.00,542.89 L129.50,542.83 L130.00,542.76 L130.50,542.70 L131.00,542.64 L131.50,542.57 L132.00,542.51 L132.50,542.45 L133.00,542.39 L133.50,542.33 L134.00,542.27 L134.50,542.21 L135.00,542.15 L135.50,542.09 L136.00,542.03 L136.50,541.98 L137.00,541.92 L137.50,541.86 L138.00,541.81 L138.50,541.75 L139.00,541.69 L139.50,541.64 L140.00,541.59 L140.50,541.53 L141.00,541.48 L141.50,541.42 L142.00,541.37 L142.50,541.32 L143.00,541.27 L143.50,541.21 L144.00,541.16 L144.50,541.11 L145.00,541.06 L145.50,541.01 L146.00,540.96 L146.50,540.91 L147.00,540.86 L147.50,540.81 L148.00,540.76 L148.50,540.71 L149.00,540.67 L149.50,540.62 L150.00,540.57 L150.50,540.52 L151.00,540.47 L151.50,540.43 L152.00,540.38 L152.50,540.33 L153.00,540.28 L153.50,540.24 L154.00,540.19 L154.50,540.14 L155.00,540.10 L155.50,540.05 L156.00,540.01 L156.50,539.96 L157.00,539.91 L157.50,539.87 L158.00,539.82 L158.50,539.78 L159.00,539.73 L159.50,539.69 L160.00,539.64 L160.50,539.60 L161.00,539.55 L161.50,539.51 L162.00,539.46 L162.50,539.41 L163.00,539.37 L163.50,539.32 L164.00,539.28 L164.50,539.23 L165.00,539.19 L165.50,539.14 L166.00,539.10 L166.50,539.05 L167.00,539.01 L167.50,538.96 L168.00,538.91 L168.50,538.87 L169.00,538.82 L169.50,538.78 L170.00,538.73 L170.50,538.68 L171.00,538.64 L171.50,538.59 L172.00,538.54 L172.50,538.50 L173.00,538.45 L173.50,538.40 L174.00,538.35 L174.50,538.31 L175.00,538.26 L175.50,538.21 L176.00,538.16 L176.50,538.11 L177.00,538.06 L177.50,538.01 L178.00,537.96 L178.50,537.91 L179.00,537.86 L179.50,537.81 L180.00,537.76 L180.50,537.71 L180.60,537.70" fill="none" stroke="#4a4a4a" stroke-width="1.0" stroke-linejoin="round"/>
<path d="M30.5,460.0 V588.5 H214.7" fill="none" stroke="#606060" stroke-width="1.1"/>
<line x1="27.4" y1="569.42" x2="30.5" y2="569.42" stroke="#606060" stroke-width="1"/>
<text transform="translate(28.30,572.67) scale(0.92,1)" class="tk" text-anchor="end">.8</text>
<line x1="27.4" y1="543.75" x2="30.5" y2="543.75" stroke="#606060" stroke-width="1"/>
<text transform="translate(26.55,547.00) scale(0.92,1)" class="tk" text-anchor="end">1</text>
<line x1="27.4" y1="522.78" x2="30.5" y2="522.78" stroke="#606060" stroke-width="1"/>
<text transform="translate(28.45,526.03) scale(0.92,1)" class="tk" text-anchor="end">1.2</text>
<line x1="27.4" y1="505.04" x2="30.5" y2="505.04" stroke="#606060" stroke-width="1"/>
<text transform="translate(28.45,508.29) scale(0.92,1)" class="tk" text-anchor="end">1.4</text>
<line x1="27.4" y1="489.68" x2="30.5" y2="489.68" stroke="#606060" stroke-width="1"/>
<text transform="translate(28.45,492.93) scale(0.92,1)" class="tk" text-anchor="end">1.6</text>
<line x1="27.4" y1="476.13" x2="30.5" y2="476.13" stroke="#606060" stroke-width="1"/>
<text transform="translate(28.45,479.38) scale(0.92,1)" class="tk" text-anchor="end">1.8</text>
<line x1="27.4" y1="464.01" x2="30.5" y2="464.01" stroke="#606060" stroke-width="1"/>
<text transform="translate(27.67,467.26) scale(0.92,1)" class="tk" text-anchor="end">2</text>
<line x1="33.49" y1="588.5" x2="33.49" y2="591.1" stroke="#606060" stroke-width="1"/>
<text transform="translate(33.89,597.60) scale(0.92,1)" class="tk" text-anchor="middle">−3</text>
<line x1="63.16" y1="588.5" x2="63.16" y2="591.1" stroke="#606060" stroke-width="1"/>
<text transform="translate(63.56,597.60) scale(0.92,1)" class="tk" text-anchor="middle">−2</text>
<line x1="92.83" y1="588.5" x2="92.83" y2="591.1" stroke="#606060" stroke-width="1"/>
<text transform="translate(93.23,597.60) scale(0.92,1)" class="tk" text-anchor="middle">−1</text>
<line x1="122.50" y1="588.5" x2="122.50" y2="591.1" stroke="#606060" stroke-width="1"/>
<text transform="translate(122.50,597.60) scale(0.92,1)" class="tk" text-anchor="middle">0</text>
<line x1="152.17" y1="588.5" x2="152.17" y2="591.1" stroke="#606060" stroke-width="1"/>
<text transform="translate(152.17,597.60) scale(0.92,1)" class="tk" text-anchor="middle">1</text>
<line x1="181.84" y1="588.5" x2="181.84" y2="591.1" stroke="#606060" stroke-width="1"/>
<text transform="translate(181.84,597.60) scale(0.92,1)" class="tk" text-anchor="middle">2</text>
<line x1="211.51" y1="588.5" x2="211.51" y2="591.1" stroke="#606060" stroke-width="1"/>
<text transform="translate(211.51,597.60) scale(0.92,1)" class="tk" text-anchor="middle">3</text>
<text x="70.63" y="607.7" class="at" textLength="109.9" lengthAdjust="spacing">Change of phosphate</text>
<text transform="translate(9.0,556.5) rotate(-90)" class="at" textLength="72.8" lengthAdjust="spacing">Hazard Ratios</text>
<line x1="266.0" y1="569.42" x2="448.9" y2="569.42" stroke="#ebf1f1" stroke-width="1"/>
<line x1="266.0" y1="522.78" x2="448.9" y2="522.78" stroke="#ebf1f1" stroke-width="1"/>
<line x1="266.0" y1="505.04" x2="448.9" y2="505.04" stroke="#ebf1f1" stroke-width="1"/>
<line x1="266.0" y1="489.68" x2="448.9" y2="489.68" stroke="#ebf1f1" stroke-width="1"/>
<line x1="266.0" y1="476.13" x2="448.9" y2="476.13" stroke="#ebf1f1" stroke-width="1"/>
<line x1="266.0" y1="464.01" x2="448.9" y2="464.01" stroke="#ebf1f1" stroke-width="1"/>
<line x1="264.0" y1="543.75" x2="448.9" y2="543.75" stroke="#585858" stroke-width="1" stroke-dasharray="3.95 1"/>
<line x1="356.80" y1="460.0" x2="356.80" y2="588.5" stroke="#585858" stroke-width="1" stroke-dasharray="3.95 1" stroke-dashoffset="3.55"/>
<path d="M268.10,561.60 L268.60,561.66 L269.10,561.72 L269.60,561.78 L270.10,561.83 L270.60,561.88 L271.10,561.93 L271.60,561.98 L272.10,562.02 L272.60,562.07 L273.10,562.11 L273.60,562.15 L274.10,562.18 L274.60,562.22 L275.10,562.25 L275.60,562.28 L276.10,562.31 L276.60,562.33 L277.10,562.36 L277.60,562.38 L278.10,562.40 L278.60,562.42 L279.10,562.43 L279.60,562.44 L280.10,562.45 L280.60,562.46 L281.10,562.47 L281.60,562.48 L282.10,562.48 L282.60,562.48 L283.10,562.48 L283.60,562.47 L284.10,562.47 L284.60,562.46 L285.10,562.45 L285.60,562.44 L286.10,562.43 L286.60,562.41 L287.10,562.39 L287.60,562.37 L288.10,562.35 L288.60,562.33 L289.10,562.30 L289.60,562.28 L290.10,562.25 L290.60,562.22 L291.10,562.18 L291.60,562.15 L292.10,562.11 L292.60,562.07 L293.10,562.03 L293.60,561.99 L294.10,561.95 L294.60,561.90 L295.10,561.85 L295.60,561.80 L296.10,561.75 L296.60,561.70 L297.10,561.64 L297.60,561.58 L298.10,561.52 L298.60,561.46 L299.10,561.40 L299.60,561.34 L300.10,561.27 L300.60,561.20 L301.10,561.13 L301.60,561.06 L302.10,560.98 L302.60,560.91 L303.10,560.83 L303.60,560.75 L304.10,560.67 L304.60,560.59 L305.10,560.51 L305.60,560.42 L306.10,560.33 L306.60,560.24 L307.10,560.15 L307.60,560.06 L308.10,559.97 L308.60,559.87 L309.10,559.77 L309.60,559.67 L310.10,559.57 L310.60,559.47 L311.10,559.37 L311.60,559.26 L312.10,559.15 L312.60,559.04 L313.10,558.93 L313.60,558.82 L314.10,558.71 L314.60,558.59 L315.10,558.47 L315.60,558.35 L316.10,558.23 L316.60,558.11 L317.10,557.99 L317.60,557.86 L318.10,557.74 L318.60,557.61 L319.10,557.48 L319.60,557.35 L320.10,557.22 L320.60,557.08 L321.10,556.95 L321.60,556.81 L322.10,556.67 L322.60,556.53 L323.10,556.39 L323.60,556.25 L324.10,556.10 L324.60,555.96 L325.10,555.81 L325.60,555.66 L326.10,555.51 L326.60,555.36 L327.10,555.21 L327.60,555.05 L328.10,554.90 L328.60,554.74 L329.10,554.58 L329.60,554.42 L330.10,554.26 L330.60,554.10 L331.10,553.93 L331.60,553.77 L332.10,553.60 L332.60,553.43 L333.10,553.26 L333.60,553.09 L334.10,552.92 L334.60,552.75 L335.10,552.57 L335.60,552.40 L336.10,552.22 L336.60,552.04 L337.10,551.86 L337.60,551.68 L338.10,551.50 L338.60,551.32 L339.10,551.13 L339.60,550.95 L340.10,550.76 L340.60,550.57 L341.10,550.38 L341.60,550.19 L342.10,550.00 L342.60,549.81 L343.10,549.61 L343.60,549.42 L344.10,549.22 L344.60,549.02 L345.10,548.82 L345.60,548.62 L346.10,548.42 L346.60,548.22 L347.10,548.02 L347.60,547.81 L348.10,547.60 L348.60,547.40 L349.10,547.19 L349.60,546.98 L350.10,546.77 L350.60,546.56 L351.10,546.35 L351.60,546.13 L352.10,545.92 L352.60,545.70 L353.10,545.49 L353.60,545.27 L354.10,545.05 L354.60,544.83 L355.10,544.61 L355.60,544.39 L356.10,544.17 L356.60,543.95 L356.70,543.90 L357.20,543.26 L357.70,542.72 L358.20,542.19 L358.70,541.65 L359.20,541.11 L359.70,540.57 L360.20,540.03 L360.70,539.49 L361.20,538.95 L361.70,538.41 L362.20,537.87 L362.70,537.33 L363.20,536.78 L363.70,536.24 L364.20,535.70 L364.70,535.16 L365.20,534.62 L365.70,534.07 L366.20,533.53 L366.70,532.99 L367.20,532.45 L367.70,531.90 L368.20,531.36 L368.70,530.81 L369.20,530.27 L369.70,529.73 L370.20,529.18 L370.70,528.64 L371.20,528.09 L371.70,527.55 L372.20,527.00 L372.70,526.46 L373.20,525.91 L373.70,525.36 L374.20,524.82 L374.70,524.27 L375.20,523.73 L375.70,523.18 L376.20,522.63 L376.70,522.09 L377.20,521.54 L377.70,520.99 L378.20,520.45 L378.70,519.90 L379.20,519.35 L379.70,518.80 L380.20,518.25 L380.70,517.71 L381.20,517.16 L381.70,516.61 L382.20,516.06 L382.70,515.51 L383.20,514.97 L383.70,514.42 L384.20,513.87 L384.70,513.32 L385.20,512.77 L385.70,512.22 L386.20,511.67 L386.70,511.13 L387.20,510.58 L387.70,510.03 L388.20,509.48 L388.70,508.93 L389.20,508.38 L389.70,507.83 L390.20,507.28 L390.70,506.73 L391.20,506.18 L391.70,505.63 L392.20,505.08 L392.70,504.54 L393.20,503.99 L393.70,503.44 L394.20,502.89 L394.70,502.34 L395.20,501.79 L395.70,501.24 L396.20,500.69 L396.70,500.14 L397.20,499.59 L397.70,499.04 L398.20,498.49 L398.70,497.94 L399.20,497.39 L399.70,496.84 L400.20,496.30 L400.70,495.75 L401.20,495.20 L401.70,494.65 L402.20,494.10 L402.70,493.55 L403.20,493.00 L403.70,492.45 L404.20,491.90 L404.70,491.36 L405.20,490.81 L405.70,490.26 L406.20,489.71 L406.70,489.16 L407.20,488.61 L407.70,488.07 L408.20,487.52 L408.70,486.97 L409.20,486.42 L409.70,485.88 L410.20,485.33 L410.70,484.78 L411.20,484.23 L411.70,483.69 L412.20,483.14 L412.70,482.59 L413.20,482.05 L413.70,481.50 L414.20,480.96 L414.70,480.41 L414.80,480.30 L415.00,519.60 L414.70,519.73 L414.20,519.94 L413.70,520.15 L413.20,520.37 L412.70,520.58 L412.20,520.79 L411.70,521.00 L411.20,521.22 L410.70,521.43 L410.20,521.64 L409.70,521.85 L409.20,522.06 L408.70,522.27 L408.20,522.49 L407.70,522.70 L407.20,522.91 L406.70,523.12 L406.20,523.33 L405.70,523.54 L405.20,523.75 L404.70,523.96 L404.20,524.17 L403.70,524.38 L403.20,524.59 L402.70,524.80 L402.20,525.01 L401.70,525.22 L401.20,525.43 L400.70,525.64 L400.20,525.85 L399.70,526.06 L399.20,526.27 L398.70,526.48 L398.20,526.69 L397.70,526.90 L397.20,527.11 L396.70,527.32 L396.20,527.52 L395.70,527.73 L395.20,527.94 L394.70,528.15 L394.20,528.36 L393.70,528.57 L393.20,528.78 L392.70,528.98 L392.20,529.19 L391.70,529.40 L391.20,529.61 L390.70,529.82 L390.20,530.02 L389.70,530.23 L389.20,530.44 L388.70,530.65 L388.20,530.86 L387.70,531.06 L387.20,531.27 L386.70,531.48 L386.20,531.69 L385.70,531.89 L385.20,532.10 L384.70,532.31 L384.20,532.52 L383.70,532.72 L383.20,532.93 L382.70,533.14 L382.20,533.34 L381.70,533.55 L381.20,533.76 L380.70,533.97 L380.20,534.17 L379.70,534.38 L379.20,534.59 L378.70,534.79 L378.20,535.00 L377.70,535.21 L377.20,535.41 L376.70,535.62 L376.20,535.83 L375.70,536.03 L375.20,536.24 L374.70,536.45 L374.20,536.65 L373.70,536.86 L373.20,537.07 L372.70,537.28 L372.20,537.48 L371.70,537.69 L371.20,537.90 L370.70,538.10 L370.20,538.31 L369.70,538.52 L369.20,538.72 L368.70,538.93 L368.20,539.14 L367.70,539.34 L367.20,539.55 L366.70,539.76 L366.20,539.96 L365.70,540.17 L365.20,540.38 L364.70,540.58 L364.20,540.79 L363.70,541.00 L363.20,541.21 L362.70,541.41 L362.20,541.62 L361.70,541.83 L361.20,542.03 L360.70,542.24 L360.20,542.45 L359.70,542.66 L359.20,542.86 L358.70,543.07 L358.20,543.28 L357.70,543.49 L357.20,543.69 L356.70,544.00 L356.30,544.46 L355.80,545.04 L355.30,545.61 L354.80,546.18 L354.30,546.75 L353.80,547.31 L353.30,547.86 L352.80,548.41 L352.30,548.96 L351.80,549.50 L351.30,550.04 L350.80,550.57 L350.30,551.10 L349.80,551.63 L349.30,552.15 L348.80,552.66 L348.30,553.17 L347.80,553.68 L347.30,554.18 L346.80,554.68 L346.30,555.17 L345.80,555.66 L345.30,556.14 L344.80,556.62 L344.30,557.10 L343.80,557.57 L343.30,558.04 L342.80,558.50 L342.30,558.96 L341.80,559.41 L341.30,559.86 L340.80,560.31 L340.30,560.75 L339.80,561.19 L339.30,561.62 L338.80,562.05 L338.30,562.47 L337.80,562.89 L337.30,563.31 L336.80,563.72 L336.30,564.13 L335.80,564.53 L335.30,564.93 L334.80,565.32 L334.30,565.71 L333.80,566.10 L333.30,566.48 L332.80,566.86 L332.30,567.23 L331.80,567.60 L331.30,567.97 L330.80,568.33 L330.30,568.69 L329.80,569.04 L329.30,569.39 L328.80,569.73 L328.30,570.08 L327.80,570.41 L327.30,570.75 L326.80,571.07 L326.30,571.40 L325.80,571.72 L325.30,572.04 L324.80,572.35 L324.30,572.66 L323.80,572.96 L323.30,573.26 L322.80,573.56 L322.30,573.85 L321.80,574.14 L321.30,574.43 L320.80,574.71 L320.30,574.99 L319.80,575.26 L319.30,575.53 L318.80,575.80 L318.30,576.06 L317.80,576.31 L317.30,576.57 L316.80,576.82 L316.30,577.07 L315.80,577.31 L315.30,577.55 L314.80,577.78 L314.30,578.01 L313.80,578.24 L313.30,578.46 L312.80,578.68 L312.30,578.90 L311.80,579.11 L311.30,579.32 L310.80,579.52 L310.30,579.72 L309.80,579.92 L309.30,580.11 L308.80,580.30 L308.30,580.49 L307.80,580.67 L307.30,580.85 L306.80,581.03 L306.30,581.20 L305.80,581.36 L305.30,581.53 L304.80,581.69 L304.30,581.85 L303.80,582.00 L303.30,582.15 L302.80,582.29 L302.30,582.44 L301.80,582.57 L301.30,582.71 L300.80,582.84 L300.30,582.97 L299.80,583.09 L299.30,583.21 L298.80,583.33 L298.30,583.45 L297.80,583.56 L297.30,583.66 L296.80,583.77 L296.30,583.87 L295.80,583.96 L295.30,584.06 L294.80,584.15 L294.30,584.23 L293.80,584.31 L293.30,584.39 L292.80,584.47 L292.30,584.48 L291.80,584.48 L291.30,584.48 L290.80,584.48 L290.30,584.48 L268.10,584.48 Z" fill="#a4a4a4" fill-opacity="0.65"/>
<path d="M268.20,576.40 L268.70,576.35 L269.20,576.30 L269.70,576.25 L270.20,576.20 L270.70,576.15 L271.20,576.10 L271.70,576.04 L272.20,575.99 L272.70,575.94 L273.20,575.89 L273.70,575.83 L274.20,575.78 L274.70,575.73 L275.20,575.67 L275.70,575.61 L276.20,575.56 L276.70,575.50 L277.20,575.45 L277.70,575.39 L278.20,575.33 L278.70,575.27 L279.20,575.21 L279.70,575.15 L280.20,575.09 L280.70,575.03 L281.20,574.96 L281.70,574.90 L282.20,574.83 L282.70,574.77 L283.20,574.70 L283.70,574.63 L284.20,574.57 L284.70,574.50 L285.20,574.43 L285.70,574.36 L286.20,574.28 L286.70,574.21 L287.20,574.14 L287.70,574.06 L288.20,573.99 L288.70,573.91 L289.20,573.83 L289.70,573.75 L290.20,573.67 L290.70,573.59 L291.20,573.51 L291.70,573.42 L292.20,573.34 L292.70,573.25 L293.20,573.16 L293.70,573.07 L294.20,572.98 L294.70,572.89 L295.20,572.79 L295.70,572.70 L296.20,572.60 L296.70,572.50 L297.20,572.40 L297.70,572.30 L298.20,572.20 L298.70,572.10 L299.20,571.99 L299.70,571.88 L300.20,571.78 L300.70,571.67 L301.20,571.55 L301.70,571.44 L302.20,571.32 L302.70,571.21 L303.20,571.09 L303.70,570.97 L304.20,570.85 L304.70,570.72 L305.20,570.60 L305.70,570.47 L306.20,570.34 L306.70,570.21 L307.20,570.07 L307.70,569.94 L308.20,569.80 L308.70,569.66 L309.20,569.52 L309.70,569.38 L310.20,569.23 L310.70,569.09 L311.20,568.94 L311.70,568.79 L312.20,568.63 L312.70,568.48 L313.20,568.32 L313.70,568.16 L314.20,568.00 L314.70,567.83 L315.20,567.67 L315.70,567.50 L316.20,567.33 L316.70,567.15 L317.20,566.98 L317.70,566.80 L318.20,566.62 L318.70,566.43 L319.20,566.25 L319.70,566.06 L320.20,565.87 L320.70,565.68 L321.20,565.48 L321.70,565.28 L322.20,565.08 L322.70,564.88 L323.20,564.68 L323.70,564.47 L324.20,564.26 L324.70,564.04 L325.20,563.83 L325.70,563.61 L326.20,563.39 L326.70,563.16 L327.20,562.94 L327.70,562.71 L328.20,562.47 L328.70,562.24 L329.20,562.00 L329.70,561.76 L330.20,561.52 L330.70,561.27 L331.20,561.02 L331.70,560.77 L332.20,560.51 L332.70,560.25 L333.20,559.99 L333.70,559.73 L334.20,559.46 L334.70,559.19 L335.20,558.91 L335.70,558.64 L336.20,558.36 L336.70,558.07 L337.20,557.79 L337.70,557.50 L338.20,557.20 L338.70,556.91 L339.20,556.61 L339.70,556.31 L340.20,556.00 L340.70,555.69 L341.20,555.38 L341.70,555.06 L342.20,554.74 L342.70,554.42 L343.20,554.09 L343.70,553.76 L344.20,553.43 L344.70,553.09 L345.20,552.75 L345.70,552.41 L346.20,552.06 L346.70,551.71 L347.20,551.35 L347.70,551.00 L348.20,550.63 L348.70,550.27 L349.20,549.90 L349.70,549.53 L350.20,549.15 L350.70,548.77 L351.20,548.38 L351.70,548.00 L352.20,547.60 L352.70,547.21 L353.20,546.81 L353.70,546.40 L354.20,546.00 L354.70,545.58 L355.20,545.17 L355.70,544.75 L356.20,544.33 L356.70,543.90 L357.20,543.51 L357.70,543.12 L358.20,542.73 L358.70,542.35 L359.20,541.96 L359.70,541.58 L360.20,541.20 L360.70,540.81 L361.20,540.43 L361.70,540.05 L362.20,539.67 L362.70,539.29 L363.20,538.91 L363.70,538.54 L364.20,538.16 L364.70,537.79 L365.20,537.41 L365.70,537.04 L366.20,536.66 L366.70,536.29 L367.20,535.92 L367.70,535.55 L368.20,535.18 L368.70,534.81 L369.20,534.44 L369.70,534.07 L370.20,533.70 L370.70,533.33 L371.20,532.96 L371.70,532.59 L372.20,532.23 L372.70,531.86 L373.20,531.50 L373.70,531.13 L374.20,530.76 L374.70,530.40 L375.20,530.03 L375.70,529.67 L376.20,529.30 L376.70,528.94 L377.20,528.58 L377.70,528.21 L378.20,527.85 L378.70,527.48 L379.20,527.12 L379.70,526.76 L380.20,526.39 L380.70,526.03 L381.20,525.67 L381.70,525.30 L382.20,524.94 L382.70,524.58 L383.20,524.21 L383.70,523.85 L384.20,523.48 L384.70,523.12 L385.20,522.75 L385.70,522.39 L386.20,522.02 L386.70,521.66 L387.20,521.29 L387.70,520.93 L388.20,520.56 L388.70,520.19 L389.20,519.83 L389.70,519.46 L390.20,519.09 L390.70,518.72 L391.20,518.35 L391.70,517.98 L392.20,517.61 L392.70,517.24 L393.20,516.87 L393.70,516.50 L394.20,516.13 L394.70,515.76 L395.20,515.38 L395.70,515.01 L396.20,514.63 L396.70,514.26 L397.20,513.88 L397.70,513.50 L398.20,513.12 L398.70,512.74 L399.20,512.36 L399.70,511.98 L400.20,511.60 L400.70,511.22 L401.20,510.83 L401.70,510.45 L402.20,510.06 L402.70,509.68 L403.20,509.29 L403.70,508.90 L404.20,508.51 L404.70,508.12 L405.20,507.73 L405.70,507.33 L406.20,506.94 L406.70,506.54 L407.20,506.14 L407.70,505.74 L408.20,505.34 L408.70,504.94 L409.20,504.54 L409.70,504.14 L410.20,503.73 L410.70,503.32 L411.20,502.92 L411.70,502.51 L412.20,502.10 L412.70,501.68 L413.20,501.27 L413.70,500.85 L414.20,500.43 L414.60,500.10" fill="none" stroke="#4a4a4a" stroke-width="1.0" stroke-linejoin="round"/>
<path d="M264.5,460.0 V588.5 H448.9" fill="none" stroke="#606060" stroke-width="1.1"/>
<line x1="261.4" y1="569.42" x2="264.5" y2="569.42" stroke="#606060" stroke-width="1"/>
<text transform="translate(262.30,572.67) scale(0.92,1)" class="tk" text-anchor="end">.8</text>
<line x1="261.4" y1="543.75" x2="264.5" y2="543.75" stroke="#606060" stroke-width="1"/>
<text transform="translate(260.55,547.00) scale(0.92,1)" class="tk" text-anchor="end">1</text>
<line x1="261.4" y1="522.78" x2="264.5" y2="522.78" stroke="#606060" stroke-width="1"/>
<text transform="translate(262.45,526.03) scale(0.92,1)" class="tk" text-anchor="end">1.2</text>
<line x1="261.4" y1="505.04" x2="264.5" y2="505.04" stroke="#606060" stroke-width="1"/>
<text transform="translate(262.45,508.29) scale(0.92,1)" class="tk" text-anchor="end">1.4</text>
<line x1="261.4" y1="489.68" x2="264.5" y2="489.68" stroke="#606060" stroke-width="1"/>
<text transform="translate(262.45,492.93) scale(0.92,1)" class="tk" text-anchor="end">1.6</text>
<line x1="261.4" y1="476.13" x2="264.5" y2="476.13" stroke="#606060" stroke-width="1"/>
<text transform="translate(262.45,479.38) scale(0.92,1)" class="tk" text-anchor="end">1.8</text>
<line x1="261.4" y1="464.01" x2="264.5" y2="464.01" stroke="#606060" stroke-width="1"/>
<text transform="translate(261.67,467.26) scale(0.92,1)" class="tk" text-anchor="end">2</text>
<line x1="268.00" y1="588.5" x2="268.00" y2="591.1" stroke="#606060" stroke-width="1"/>
<text transform="translate(268.40,597.60) scale(0.92,1)" class="tk" text-anchor="middle">−3</text>
<line x1="297.60" y1="588.5" x2="297.60" y2="591.1" stroke="#606060" stroke-width="1"/>
<text transform="translate(298.00,597.60) scale(0.92,1)" class="tk" text-anchor="middle">−2</text>
<line x1="327.20" y1="588.5" x2="327.20" y2="591.1" stroke="#606060" stroke-width="1"/>
<text transform="translate(327.60,597.60) scale(0.92,1)" class="tk" text-anchor="middle">−1</text>
<line x1="356.80" y1="588.5" x2="356.80" y2="591.1" stroke="#606060" stroke-width="1"/>
<text transform="translate(356.80,597.60) scale(0.92,1)" class="tk" text-anchor="middle">0</text>
<line x1="386.40" y1="588.5" x2="386.40" y2="591.1" stroke="#606060" stroke-width="1"/>
<text transform="translate(386.40,597.60) scale(0.92,1)" class="tk" text-anchor="middle">1</text>
<line x1="416.00" y1="588.5" x2="416.00" y2="591.1" stroke="#606060" stroke-width="1"/>
<text transform="translate(416.00,597.60) scale(0.92,1)" class="tk" text-anchor="middle">2</text>
<line x1="445.60" y1="588.5" x2="445.60" y2="591.1" stroke="#606060" stroke-width="1"/>
<text transform="translate(445.60,597.60) scale(0.92,1)" class="tk" text-anchor="middle">3</text>
<text x="304.63" y="607.7" class="at" textLength="109.9" lengthAdjust="spacing">Change of phosphate</text>
<text transform="translate(243.0,556.5) rotate(-90)" class="at" textLength="72.8" lengthAdjust="spacing">Hazard Ratios</text>
<line x1="501.0" y1="569.42" x2="684.0" y2="569.42" stroke="#ebf1f1" stroke-width="1"/>
<line x1="501.0" y1="522.78" x2="684.0" y2="522.78" stroke="#ebf1f1" stroke-width="1"/>
<line x1="501.0" y1="505.04" x2="684.0" y2="505.04" stroke="#ebf1f1" stroke-width="1"/>
<line x1="501.0" y1="489.68" x2="684.0" y2="489.68" stroke="#ebf1f1" stroke-width="1"/>
<line x1="501.0" y1="476.13" x2="684.0" y2="476.13" stroke="#ebf1f1" stroke-width="1"/>
<line x1="501.0" y1="464.01" x2="684.0" y2="464.01" stroke="#ebf1f1" stroke-width="1"/>
<line x1="499.0" y1="543.75" x2="684.0" y2="543.75" stroke="#585858" stroke-width="1" stroke-dasharray="3.95 1"/>
<line x1="591.50" y1="460.0" x2="591.50" y2="588.5" stroke="#585858" stroke-width="1" stroke-dasharray="3.95 1" stroke-dashoffset="3.55"/>
<path d="M503.10,546.10 L503.60,546.31 L504.10,546.52 L504.60,546.73 L505.10,546.93 L505.60,547.12 L506.10,547.32 L506.60,547.51 L507.10,547.69 L507.60,547.88 L508.10,548.06 L508.60,548.23 L509.10,548.40 L509.60,548.57 L510.10,548.74 L510.60,548.90 L511.10,549.06 L511.60,549.21 L512.10,549.36 L512.60,549.51 L513.10,549.66 L513.60,549.80 L514.10,549.93 L514.60,550.07 L515.10,550.20 L515.60,550.33 L516.10,550.45 L516.60,550.57 L517.10,550.69 L517.60,550.81 L518.10,550.92 L518.60,551.03 L519.10,551.13 L519.60,551.24 L520.10,551.34 L520.60,551.43 L521.10,551.52 L521.60,551.61 L522.10,551.70 L522.60,551.79 L523.10,551.87 L523.60,551.95 L524.10,552.02 L524.60,552.09 L525.10,552.16 L525.60,552.23 L526.10,552.29 L526.60,552.35 L527.10,552.41 L527.60,552.47 L528.10,552.52 L528.60,552.57 L529.10,552.62 L529.60,552.66 L530.10,552.70 L530.60,552.74 L531.10,552.78 L531.60,552.81 L532.10,552.84 L532.60,552.87 L533.10,552.90 L533.60,552.92 L534.10,552.94 L534.60,552.96 L535.10,552.98 L535.60,552.99 L536.10,553.00 L536.60,553.01 L537.10,553.01 L537.60,553.02 L538.10,553.02 L538.60,553.02 L539.10,553.02 L539.60,553.01 L540.10,553.00 L540.60,552.99 L541.10,552.98 L541.60,552.97 L542.10,552.95 L542.60,552.93 L543.10,552.91 L543.60,552.89 L544.10,552.86 L544.60,552.83 L545.10,552.80 L545.60,552.77 L546.10,552.74 L546.60,552.70 L547.10,552.67 L547.60,552.63 L548.10,552.59 L548.60,552.54 L549.10,552.50 L549.60,552.45 L550.10,552.40 L550.60,552.35 L551.10,552.30 L551.60,552.24 L552.10,552.19 L552.60,552.13 L553.10,552.07 L553.60,552.01 L554.10,551.94 L554.60,551.88 L555.10,551.81 L555.60,551.74 L556.10,551.67 L556.60,551.60 L557.10,551.53 L557.60,551.46 L558.10,551.38 L558.60,551.30 L559.10,551.22 L559.60,551.14 L560.10,551.06 L560.60,550.98 L561.10,550.89 L561.60,550.81 L562.10,550.72 L562.60,550.63 L563.10,550.54 L563.60,550.45 L564.10,550.35 L564.60,550.26 L565.10,550.16 L565.60,550.07 L566.10,549.97 L566.60,549.87 L567.10,549.77 L567.60,549.67 L568.10,549.57 L568.60,549.46 L569.10,549.36 L569.60,549.25 L570.10,549.14 L570.60,549.04 L571.10,548.93 L571.60,548.82 L572.10,548.71 L572.60,548.59 L573.10,548.48 L573.60,548.37 L574.10,548.25 L574.60,548.14 L575.10,548.02 L575.60,547.91 L576.10,547.79 L576.60,547.67 L577.10,547.55 L577.60,547.43 L578.10,547.31 L578.60,547.19 L579.10,547.06 L579.60,546.94 L580.10,546.82 L580.60,546.69 L581.10,546.57 L581.60,546.44 L582.10,546.32 L582.60,546.19 L583.10,546.06 L583.60,545.94 L584.10,545.81 L584.60,545.68 L585.10,545.55 L585.60,545.42 L586.10,545.29 L586.60,545.16 L587.10,545.03 L587.60,544.90 L588.10,544.77 L588.60,544.64 L589.10,544.51 L589.60,544.38 L590.10,544.24 L590.60,544.11 L591.10,543.98 L591.40,543.90 L591.90,543.29 L592.40,542.78 L592.90,542.26 L593.40,541.75 L593.90,541.23 L594.40,540.72 L594.90,540.20 L595.40,539.68 L595.90,539.17 L596.40,538.65 L596.90,538.13 L597.40,537.61 L597.90,537.09 L598.40,536.57 L598.90,536.05 L599.40,535.52 L599.90,535.00 L600.40,534.48 L600.90,533.95 L601.40,533.43 L601.90,532.91 L602.40,532.38 L602.90,531.86 L603.40,531.33 L603.90,530.80 L604.40,530.28 L604.90,529.75 L605.40,529.22 L605.90,528.70 L606.40,528.17 L606.90,527.64 L607.40,527.11 L607.90,526.59 L608.40,526.06 L608.90,525.53 L609.40,525.00 L609.90,524.47 L610.40,523.94 L610.90,523.41 L611.40,522.88 L611.90,522.35 L612.40,521.83 L612.90,521.30 L613.40,520.77 L613.90,520.24 L614.40,519.71 L614.90,519.18 L615.40,518.65 L615.90,518.12 L616.40,517.59 L616.90,517.06 L617.40,516.53 L617.90,516.01 L618.40,515.48 L618.90,514.95 L619.40,514.42 L619.90,513.89 L620.40,513.37 L620.90,512.84 L621.40,512.31 L621.90,511.79 L622.40,511.26 L622.90,510.74 L623.40,510.21 L623.90,509.69 L624.40,509.16 L624.90,508.64 L625.40,508.11 L625.90,507.59 L626.40,507.07 L626.90,506.55 L627.40,506.03 L627.90,505.50 L628.40,504.98 L628.90,504.46 L629.40,503.95 L629.90,503.43 L630.40,502.91 L630.90,502.39 L631.40,501.88 L631.90,501.36 L632.40,500.85 L632.90,500.33 L633.40,499.82 L633.90,499.31 L634.40,498.79 L634.90,498.28 L635.40,497.77 L635.90,497.26 L636.40,496.76 L636.90,496.25 L637.40,495.74 L637.90,495.24 L638.40,494.73 L638.90,494.23 L639.40,493.73 L639.90,493.22 L640.40,492.72 L640.90,492.22 L641.40,491.73 L641.90,491.23 L642.40,490.73 L642.90,490.24 L643.40,489.74 L643.90,489.25 L644.40,488.76 L644.90,488.27 L645.40,487.78 L645.90,487.29 L646.40,486.81 L646.90,486.32 L647.40,485.84 L647.90,485.36 L648.40,484.88 L648.90,484.40 L649.00,484.30 L648.80,528.60 L648.40,528.70 L647.90,528.83 L647.40,528.96 L646.90,529.10 L646.40,529.23 L645.90,529.36 L645.40,529.49 L644.90,529.63 L644.40,529.76 L643.90,529.90 L643.40,530.03 L642.90,530.17 L642.40,530.31 L641.90,530.45 L641.40,530.58 L640.90,530.72 L640.40,530.86 L639.90,531.00 L639.40,531.14 L638.90,531.28 L638.40,531.42 L637.90,531.56 L637.40,531.71 L636.90,531.85 L636.40,531.99 L635.90,532.13 L635.40,532.28 L634.90,532.42 L634.40,532.56 L633.90,532.71 L633.40,532.85 L632.90,533.00 L632.40,533.14 L631.90,533.29 L631.40,533.43 L630.90,533.58 L630.40,533.72 L629.90,533.87 L629.40,534.01 L628.90,534.16 L628.40,534.30 L627.90,534.45 L627.40,534.59 L626.90,534.74 L626.40,534.88 L625.90,535.03 L625.40,535.18 L624.90,535.32 L624.40,535.47 L623.90,535.61 L623.40,535.76 L622.90,535.90 L622.40,536.05 L621.90,536.19 L621.40,536.33 L620.90,536.48 L620.40,536.62 L619.90,536.76 L619.40,536.91 L618.90,537.05 L618.40,537.19 L617.90,537.34 L617.40,537.48 L616.90,537.62 L616.40,537.76 L615.90,537.90 L615.40,538.04 L614.90,538.18 L614.40,538.32 L613.90,538.46 L613.40,538.60 L612.90,538.73 L612.40,538.87 L611.90,539.01 L611.40,539.14 L610.90,539.28 L610.40,539.42 L609.90,539.55 L609.40,539.68 L608.90,539.82 L608.40,539.95 L607.90,540.08 L607.40,540.21 L606.90,540.34 L606.40,540.47 L605.90,540.60 L605.40,540.73 L604.90,540.85 L604.40,540.98 L603.90,541.10 L603.40,541.23 L602.90,541.35 L602.40,541.47 L601.90,541.60 L601.40,541.72 L600.90,541.84 L600.40,541.95 L599.90,542.07 L599.40,542.19 L598.90,542.30 L598.40,542.42 L597.90,542.53 L597.40,542.64 L596.90,542.76 L596.40,542.87 L595.90,542.97 L595.40,543.08 L594.90,543.19 L594.40,543.29 L593.90,543.40 L593.40,543.50 L592.90,543.60 L592.40,543.70 L591.90,543.80 L591.40,544.00 L591.00,544.53 L590.50,545.19 L590.00,545.83 L589.50,546.48 L589.00,547.11 L588.50,547.73 L588.00,548.35 L587.50,548.96 L587.00,549.57 L586.50,550.16 L586.00,550.75 L585.50,551.33 L585.00,551.91 L584.50,552.47 L584.00,553.03 L583.50,553.58 L583.00,554.13 L582.50,554.67 L582.00,555.20 L581.50,555.72 L581.00,556.24 L580.50,556.75 L580.00,557.25 L579.50,557.75 L579.00,558.24 L578.50,558.73 L578.00,559.20 L577.50,559.67 L577.00,560.14 L576.50,560.59 L576.00,561.04 L575.50,561.49 L575.00,561.93 L574.50,562.36 L574.00,562.78 L573.50,563.20 L573.00,563.61 L572.50,564.02 L572.00,564.42 L571.50,564.82 L571.00,565.20 L570.50,565.59 L570.00,565.96 L569.50,566.33 L569.00,566.70 L568.50,567.06 L568.00,567.41 L567.50,567.76 L567.00,568.10 L566.50,568.43 L566.00,568.76 L565.50,569.09 L565.00,569.41 L564.50,569.72 L564.00,570.03 L563.50,570.33 L563.00,570.63 L562.50,570.92 L562.00,571.21 L561.50,571.49 L561.00,571.76 L560.50,572.04 L560.00,572.30 L559.50,572.56 L559.00,572.82 L558.50,573.07 L558.00,573.32 L557.50,573.56 L557.00,573.79 L556.50,574.02 L556.00,574.25 L555.50,574.47 L555.00,574.69 L554.50,574.90 L554.00,575.11 L553.50,575.31 L553.00,575.51 L552.50,575.71 L552.00,575.90 L551.50,576.08 L551.00,576.26 L550.50,576.44 L550.00,576.61 L549.50,576.78 L549.00,576.95 L548.50,577.11 L548.00,577.26 L547.50,577.42 L547.00,577.56 L546.50,577.71 L546.00,577.85 L545.50,577.99 L545.00,578.12 L544.50,578.25 L544.00,578.37 L543.50,578.49 L543.00,578.61 L542.50,578.73 L542.00,578.84 L541.50,578.94 L541.00,579.05 L540.50,579.15 L540.00,579.24 L539.50,579.34 L539.00,579.43 L538.50,579.51 L538.00,579.60 L537.50,579.68 L537.00,579.76 L536.50,579.83 L536.00,579.90 L535.50,579.97 L535.00,580.03 L534.50,580.10 L534.00,580.16 L533.50,580.21 L533.00,580.27 L532.50,580.32 L532.00,580.37 L531.50,580.41 L531.00,580.45 L530.50,580.49 L530.00,580.53 L529.50,580.57 L529.00,580.60 L528.50,580.63 L528.00,580.66 L527.50,580.69 L527.00,580.71 L526.50,580.73 L526.00,580.75 L525.50,580.77 L525.00,580.78 L524.50,580.79 L524.00,580.80 L523.50,580.81 L523.00,580.82 L522.50,580.83 L522.00,580.83 L521.50,580.83 L521.00,580.83 L520.50,580.83 L520.00,580.82 L519.50,580.82 L519.00,580.81 L518.50,580.80 L518.00,580.79 L517.50,580.78 L517.00,580.77 L516.50,580.75 L516.00,580.74 L515.50,580.72 L515.00,580.70 L514.50,580.68 L514.00,580.66 L513.50,580.64 L513.00,580.62 L512.50,580.59 L512.00,580.57 L511.50,580.54 L511.00,580.52 L510.50,580.49 L510.00,580.46 L509.50,580.43 L509.00,580.40 L508.50,580.37 L508.00,580.34 L507.50,580.31 L507.00,580.27 L506.50,580.24 L506.00,580.21 L505.50,580.17 L505.00,580.14 L504.50,580.10 L504.00,580.07 L503.50,580.03 L503.00,580.00 Z" fill="#a4a4a4" fill-opacity="0.65"/>
<path d="M503.10,563.30 L503.60,563.42 L504.10,563.54 L504.60,563.67 L505.10,563.78 L505.60,563.90 L506.10,564.01 L506.60,564.12 L507.10,564.23 L507.60,564.34 L508.10,564.44 L508.60,564.55 L509.10,564.65 L509.60,564.74 L510.10,564.84 L510.60,564.93 L511.10,565.02 L511.60,565.11 L512.10,565.20 L512.60,565.28 L513.10,565.36 L513.60,565.44 L514.10,565.52 L514.60,565.59 L515.10,565.66 L515.60,565.73 L516.10,565.80 L516.60,565.86 L517.10,565.92 L517.60,565.98 L518.10,566.04 L518.60,566.09 L519.10,566.14 L519.60,566.19 L520.10,566.24 L520.60,566.29 L521.10,566.33 L521.60,566.37 L522.10,566.40 L522.60,566.44 L523.10,566.47 L523.60,566.50 L524.10,566.53 L524.60,566.55 L525.10,566.57 L525.60,566.59 L526.10,566.61 L526.60,566.62 L527.10,566.63 L527.60,566.64 L528.10,566.65 L528.60,566.65 L529.10,566.65 L529.60,566.65 L530.10,566.65 L530.60,566.64 L531.10,566.63 L531.60,566.62 L532.10,566.60 L532.60,566.59 L533.10,566.57 L533.60,566.54 L534.10,566.52 L534.60,566.49 L535.10,566.46 L535.60,566.43 L536.10,566.39 L536.60,566.35 L537.10,566.31 L537.60,566.27 L538.10,566.22 L538.60,566.17 L539.10,566.12 L539.60,566.06 L540.10,566.00 L540.60,565.94 L541.10,565.88 L541.60,565.81 L542.10,565.74 L542.60,565.67 L543.10,565.59 L543.60,565.52 L544.10,565.43 L544.60,565.35 L545.10,565.26 L545.60,565.18 L546.10,565.08 L546.60,564.99 L547.10,564.89 L547.60,564.79 L548.10,564.69 L548.60,564.58 L549.10,564.47 L549.60,564.36 L550.10,564.24 L550.60,564.12 L551.10,564.00 L551.60,563.88 L552.10,563.75 L552.60,563.62 L553.10,563.49 L553.60,563.35 L554.10,563.21 L554.60,563.07 L555.10,562.93 L555.60,562.78 L556.10,562.63 L556.60,562.47 L557.10,562.32 L557.60,562.16 L558.10,561.99 L558.60,561.83 L559.10,561.66 L559.60,561.48 L560.10,561.31 L560.60,561.13 L561.10,560.95 L561.60,560.76 L562.10,560.58 L562.60,560.39 L563.10,560.19 L563.60,560.00 L564.10,559.80 L564.60,559.59 L565.10,559.39 L565.60,559.18 L566.10,558.96 L566.60,558.75 L567.10,558.53 L567.60,558.31 L568.10,558.08 L568.60,557.85 L569.10,557.62 L569.60,557.38 L570.10,557.15 L570.60,556.90 L571.10,556.66 L571.60,556.41 L572.10,556.16 L572.60,555.91 L573.10,555.65 L573.60,555.39 L574.10,555.12 L574.60,554.85 L575.10,554.58 L575.60,554.31 L576.10,554.03 L576.60,553.75 L577.10,553.47 L577.60,553.18 L578.10,552.89 L578.60,552.59 L579.10,552.30 L579.60,551.99 L580.10,551.69 L580.60,551.38 L581.10,551.07 L581.60,550.76 L582.10,550.44 L582.60,550.12 L583.10,549.79 L583.60,549.47 L584.10,549.13 L584.60,548.80 L585.10,548.46 L585.60,548.12 L586.10,547.77 L586.60,547.42 L587.10,547.07 L587.60,546.72 L588.10,546.36 L588.60,545.99 L589.10,545.63 L589.60,545.26 L590.10,544.89 L590.60,544.51 L591.10,544.13 L591.40,543.90 L591.90,543.57 L592.40,543.25 L592.90,542.92 L593.40,542.59 L593.90,542.26 L594.40,541.94 L594.90,541.61 L595.40,541.28 L595.90,540.95 L596.40,540.63 L596.90,540.30 L597.40,539.97 L597.90,539.64 L598.40,539.31 L598.90,538.99 L599.40,538.66 L599.90,538.33 L600.40,538.00 L600.90,537.67 L601.40,537.35 L601.90,537.02 L602.40,536.69 L602.90,536.36 L603.40,536.03 L603.90,535.71 L604.40,535.38 L604.90,535.05 L605.40,534.72 L605.90,534.39 L606.40,534.06 L606.90,533.74 L607.40,533.41 L607.90,533.08 L608.40,532.75 L608.90,532.42 L609.40,532.09 L609.90,531.76 L610.40,531.43 L610.90,531.11 L611.40,530.78 L611.90,530.45 L612.40,530.12 L612.90,529.79 L613.40,529.46 L613.90,529.13 L614.40,528.80 L614.90,528.47 L615.40,528.14 L615.90,527.81 L616.40,527.48 L616.90,527.16 L617.40,526.83 L617.90,526.50 L618.40,526.17 L618.90,525.84 L619.40,525.51 L619.90,525.18 L620.40,524.85 L620.90,524.52 L621.40,524.19 L621.90,523.86 L622.40,523.53 L622.90,523.20 L623.40,522.87 L623.90,522.54 L624.40,522.21 L624.90,521.88 L625.40,521.55 L625.90,521.22 L626.40,520.89 L626.90,520.56 L627.40,520.23 L627.90,519.90 L628.40,519.57 L628.90,519.23 L629.40,518.90 L629.90,518.57 L630.40,518.24 L630.90,517.91 L631.40,517.58 L631.90,517.25 L632.40,516.92 L632.90,516.59 L633.40,516.26 L633.90,515.93 L634.40,515.59 L634.90,515.26 L635.40,514.93 L635.90,514.60 L636.40,514.27 L636.90,513.94 L637.40,513.61 L637.90,513.28 L638.40,512.94 L638.90,512.61 L639.40,512.28 L639.90,511.95 L640.40,511.62 L640.90,511.28 L641.40,510.95 L641.90,510.62 L642.40,510.29 L642.90,509.96 L643.40,509.62 L643.90,509.29 L644.40,508.96 L644.90,508.63 L645.40,508.30 L645.90,507.96 L646.40,507.63 L646.90,507.30 L647.40,506.97 L647.90,506.63 L648.40,506.30" fill="none" stroke="#4a4a4a" stroke-width="1.0" stroke-linejoin="round"/>
<path d="M499.5,460.0 V588.5 H684.0" fill="none" stroke="#606060" stroke-width="1.1"/>
<line x1="496.4" y1="569.42" x2="499.5" y2="569.42" stroke="#606060" stroke-width="1"/>
<text transform="translate(497.30,572.67) scale(0.92,1)" class="tk" text-anchor="end">.8</text>
<line x1="496.4" y1="543.75" x2="499.5" y2="543.75" stroke="#606060" stroke-width="1"/>
<text transform="translate(495.55,547.00) scale(0.92,1)" class="tk" text-anchor="end">1</text>
<line x1="496.4" y1="522.78" x2="499.5" y2="522.78" stroke="#606060" stroke-width="1"/>
<text transform="translate(497.45,526.03) scale(0.92,1)" class="tk" text-anchor="end">1.2</text>
<line x1="496.4" y1="505.04" x2="499.5" y2="505.04" stroke="#606060" stroke-width="1"/>
<text transform="translate(497.45,508.29) scale(0.92,1)" class="tk" text-anchor="end">1.4</text>
<line x1="496.4" y1="489.68" x2="499.5" y2="489.68" stroke="#606060" stroke-width="1"/>
<text transform="translate(497.45,492.93) scale(0.92,1)" class="tk" text-anchor="end">1.6</text>
<line x1="496.4" y1="476.13" x2="499.5" y2="476.13" stroke="#606060" stroke-width="1"/>
<text transform="translate(497.45,479.38) scale(0.92,1)" class="tk" text-anchor="end">1.8</text>
<line x1="496.4" y1="464.01" x2="499.5" y2="464.01" stroke="#606060" stroke-width="1"/>
<text transform="translate(496.67,467.26) scale(0.92,1)" class="tk" text-anchor="end">2</text>
<line x1="503.15" y1="588.5" x2="503.15" y2="591.1" stroke="#606060" stroke-width="1"/>
<text transform="translate(503.55,597.60) scale(0.92,1)" class="tk" text-anchor="middle">−3</text>
<line x1="532.60" y1="588.5" x2="532.60" y2="591.1" stroke="#606060" stroke-width="1"/>
<text transform="translate(533.00,597.60) scale(0.92,1)" class="tk" text-anchor="middle">−2</text>
<line x1="562.05" y1="588.5" x2="562.05" y2="591.1" stroke="#606060" stroke-width="1"/>
<text transform="translate(562.45,597.60) scale(0.92,1)" class="tk" text-anchor="middle">−1</text>
<line x1="591.50" y1="588.5" x2="591.50" y2="591.1" stroke="#606060" stroke-width="1"/>
<text transform="translate(591.50,597.60) scale(0.92,1)" class="tk" text-anchor="middle">0</text>
<line x1="620.95" y1="588.5" x2="620.95" y2="591.1" stroke="#606060" stroke-width="1"/>
<text transform="translate(620.95,597.60) scale(0.92,1)" class="tk" text-anchor="middle">1</text>
<line x1="650.40" y1="588.5" x2="650.40" y2="591.1" stroke="#606060" stroke-width="1"/>
<text transform="translate(650.40,597.60) scale(0.92,1)" class="tk" text-anchor="middle">2</text>
<line x1="679.85" y1="588.5" x2="679.85" y2="591.1" stroke="#606060" stroke-width="1"/>
<text transform="translate(679.85,597.60) scale(0.92,1)" class="tk" text-anchor="middle">3</text>
<text x="539.63" y="607.7" class="at" textLength="109.9" lengthAdjust="spacing">Change of phosphate</text>
<text transform="translate(478.0,556.5) rotate(-90)" class="at" textLength="72.8" lengthAdjust="spacing">Hazard Ratios</text>
<text x="112.8" y="31.1" class="pt" text-anchor="middle">PS 0</text>
<text x="347.7" y="31.1" class="pt" text-anchor="middle">PS 1</text>
<text x="580.5" y="31.1" class="pt" text-anchor="middle">PS 2-4</text>
<text x="112.8" y="243.6" class="pt" text-anchor="middle">PS 0</text>
<text x="347.7" y="243.6" class="pt" text-anchor="middle">PS 1</text>
<text x="580.5" y="243.6" class="pt" text-anchor="middle">PS 2-4</text>
<text x="112.8" y="452.6" class="pt" text-anchor="middle">PS 0</text>
<text x="347.7" y="452.6" class="pt" text-anchor="middle">PS 1</text>
<text x="580.5" y="452.6" class="pt" text-anchor="middle">PS 2-4</text>
<text x="251.0" y="10.95" class="rt" textLength="182.9" lengthAdjust="spacing">Baseline P 5.0-&lt;5.5 mg/dL</text>
<text x="246.2" y="221.60" class="rt" textLength="184.2" lengthAdjust="spacing">Baseline P 5.5-&lt;6.0 mg/dL</text>
<text x="259.8" y="429.70" class="rt" textLength="156.7" lengthAdjust="spacing">Baseline P ≥6.0 mg/dL</text>
</svg></body></html>
